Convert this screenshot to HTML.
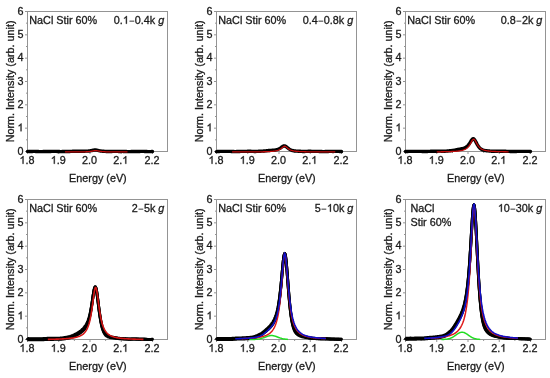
<!DOCTYPE html><html><head><meta charset="utf-8"><style>html,body{margin:0;padding:0;background:#fff;}svg{display:block;will-change:transform;}text{font-family:"Liberation Sans",sans-serif;stroke:#1a1a1a;stroke-width:0.3px;}</style></head><body>
<svg width="550" height="378" viewBox="0 0 550 378">
<rect x="27.5" y="11.5" width="140.0" height="140.0" fill="none" stroke="#949494" stroke-width="1"/>
<line x1="25.0" y1="151.50" x2="27.5" y2="151.50" stroke="#949494" stroke-width="1"/>
<text id="t0" x="23.50" y="154.60" font-size="10.8" fill="#1a1a1a" text-anchor="end">0</text>
<line x1="26.0" y1="139.83" x2="27.5" y2="139.83" stroke="#949494" stroke-width="1"/>
<line x1="25.0" y1="128.17" x2="27.5" y2="128.17" stroke="#949494" stroke-width="1"/>
<text id="t1" x="23.50" y="131.27" font-size="10.8" fill="#1a1a1a" text-anchor="end"><tspan style="fill:none;stroke:none">1</tspan></text>
<path d="M21.51,131.27 L20.56,131.27 L20.56,125.22 Q20.22,125.55 19.66,125.88 Q19.10,126.20 18.66,126.37 L18.66,125.45 Q19.46,125.07 20.05,124.54 Q20.64,124.01 20.89,123.51 L21.51,123.51Z" fill="#1a1a1a" stroke="#1a1a1a" stroke-width="0.3"/>
<line x1="26.0" y1="116.50" x2="27.5" y2="116.50" stroke="#949494" stroke-width="1"/>
<line x1="25.0" y1="104.83" x2="27.5" y2="104.83" stroke="#949494" stroke-width="1"/>
<text id="t2" x="23.50" y="107.93" font-size="10.8" fill="#1a1a1a" text-anchor="end">2</text>
<line x1="26.0" y1="93.17" x2="27.5" y2="93.17" stroke="#949494" stroke-width="1"/>
<line x1="25.0" y1="81.50" x2="27.5" y2="81.50" stroke="#949494" stroke-width="1"/>
<text id="t3" x="23.50" y="84.60" font-size="10.8" fill="#1a1a1a" text-anchor="end">3</text>
<line x1="26.0" y1="69.83" x2="27.5" y2="69.83" stroke="#949494" stroke-width="1"/>
<line x1="25.0" y1="58.17" x2="27.5" y2="58.17" stroke="#949494" stroke-width="1"/>
<text id="t4" x="23.50" y="61.27" font-size="10.8" fill="#1a1a1a" text-anchor="end">4</text>
<line x1="26.0" y1="46.50" x2="27.5" y2="46.50" stroke="#949494" stroke-width="1"/>
<line x1="25.0" y1="34.83" x2="27.5" y2="34.83" stroke="#949494" stroke-width="1"/>
<text id="t5" x="23.50" y="37.93" font-size="10.8" fill="#1a1a1a" text-anchor="end">5</text>
<line x1="26.0" y1="23.17" x2="27.5" y2="23.17" stroke="#949494" stroke-width="1"/>
<line x1="25.0" y1="11.50" x2="27.5" y2="11.50" stroke="#949494" stroke-width="1"/>
<text id="t6" x="23.50" y="14.60" font-size="10.8" fill="#1a1a1a" text-anchor="end">6</text>
<line x1="27.50" y1="151.5" x2="27.50" y2="154.0" stroke="#949494" stroke-width="1"/>
<text id="t7" x="27.00" y="163.80" font-size="10.8" fill="#1a1a1a" text-anchor="middle"><tspan style="fill:none;stroke:none">1</tspan>.8</text>
<path d="M23.51,163.80 L22.56,163.80 L22.56,157.75 Q22.22,158.08 21.66,158.41 Q21.10,158.73 20.66,158.90 L20.66,157.98 Q21.46,157.60 22.05,157.07 Q22.64,156.54 22.89,156.04 L23.51,156.04Z" fill="#1a1a1a" stroke="#1a1a1a" stroke-width="0.3"/>
<line x1="43.12" y1="151.5" x2="43.12" y2="153.0" stroke="#949494" stroke-width="1"/>
<line x1="58.75" y1="151.5" x2="58.75" y2="154.0" stroke="#949494" stroke-width="1"/>
<text id="t8" x="58.25" y="163.80" font-size="10.8" fill="#1a1a1a" text-anchor="middle"><tspan style="fill:none;stroke:none">1</tspan>.9</text>
<path d="M54.76,163.80 L53.81,163.80 L53.81,157.75 Q53.47,158.08 52.91,158.41 Q52.35,158.73 51.91,158.90 L51.91,157.98 Q52.71,157.60 53.30,157.07 Q53.89,156.54 54.14,156.04 L54.76,156.04Z" fill="#1a1a1a" stroke="#1a1a1a" stroke-width="0.3"/>
<line x1="74.38" y1="151.5" x2="74.38" y2="153.0" stroke="#949494" stroke-width="1"/>
<line x1="90.00" y1="151.5" x2="90.00" y2="154.0" stroke="#949494" stroke-width="1"/>
<text id="t9" x="89.50" y="163.80" font-size="10.8" fill="#1a1a1a" text-anchor="middle">2.0</text>
<line x1="105.62" y1="151.5" x2="105.62" y2="153.0" stroke="#949494" stroke-width="1"/>
<line x1="121.25" y1="151.5" x2="121.25" y2="154.0" stroke="#949494" stroke-width="1"/>
<text id="t10" x="120.75" y="163.80" font-size="10.8" fill="#1a1a1a" text-anchor="middle">2.<tspan style="fill:none;stroke:none">1</tspan></text>
<path d="M126.27,163.80 L125.32,163.80 L125.32,157.75 Q124.98,158.08 124.42,158.41 Q123.87,158.73 123.43,158.90 L123.43,157.98 Q124.22,157.60 124.82,157.07 Q125.41,156.54 125.66,156.04 L126.27,156.04Z" fill="#1a1a1a" stroke="#1a1a1a" stroke-width="0.3"/>
<line x1="136.88" y1="151.5" x2="136.88" y2="153.0" stroke="#949494" stroke-width="1"/>
<line x1="152.50" y1="151.5" x2="152.50" y2="154.0" stroke="#949494" stroke-width="1"/>
<text id="t11" x="152.00" y="163.80" font-size="10.8" fill="#1a1a1a" text-anchor="middle">2.2</text>
<text id="t12" x="97.90" y="181.50" font-size="10.8" fill="#1a1a1a" text-anchor="middle">Energy (eV)</text>
<text x="13.90" y="81.40" font-size="10.8" fill="#1a1a1a" text-anchor="middle" transform="rotate(-90 13.90 81.40)">Norm. Intensity (arb. unit)</text>
<text id="t13" x="29.30" y="23.70" font-size="10.8" fill="#1a1a1a">NaCl Stir 60%</text>
<text id="t14" x="164.30" y="23.70" font-size="10.8" fill="#1a1a1a" text-anchor="end">0.<tspan style="fill:none;stroke:none">1</tspan><tspan style="fill:none;stroke:none">–</tspan>0.4k <tspan font-style="italic">g</tspan></text>
<path d="M126.85,23.70 L125.91,23.70 L125.91,17.65 Q125.56,17.98 125.00,18.31 Q124.45,18.63 124.01,18.80 L124.01,17.88 Q124.80,17.50 125.40,16.97 Q125.99,16.44 126.24,15.94 L126.85,15.94Z" fill="#1a1a1a" stroke="#1a1a1a" stroke-width="0.3"/>
<rect x="129.45" y="20.65" width="4.81" height="1.0" fill="#3a3a3a"/>
<path d="M27.50,151.42 L28.00,151.42 L28.50,151.43 L29.00,151.44 L29.50,151.44 L30.00,151.45 L30.50,151.45 L31.00,151.44 L31.50,151.44 L32.00,151.43 L32.50,151.43 L33.00,151.42 L33.50,151.41 L34.00,151.41 L34.50,151.41 L35.00,151.42 L35.50,151.43 L36.00,151.45 L36.50,151.47 L37.00,151.49 L37.50,151.52 L38.00,151.54 L38.50,151.57 L39.00,151.59 L39.50,151.61 L40.00,151.62 L40.50,151.63 L41.00,151.62 L41.50,151.62 L42.00,151.60 L42.50,151.59 L43.00,151.57 L43.50,151.55 L44.00,151.53 L44.50,151.51 L45.00,151.49 L45.50,151.48 L46.00,151.47 L46.50,151.47 L47.00,151.47 L47.50,151.47 L48.00,151.47 L48.50,151.47 L49.00,151.47 L49.50,151.47 L50.00,151.46 L50.50,151.45 L51.00,151.44 L51.50,151.42 L52.00,151.41 L52.50,151.39 L53.00,151.38 L53.50,151.37 L54.00,151.36 L54.50,151.36 L55.00,151.37 L55.50,151.38 L56.00,151.39 L56.50,151.42 L57.00,151.44 L57.50,151.47 L58.00,151.50 L58.50,151.52 L59.00,151.54 L59.50,151.56 L60.00,151.58 L60.50,151.58 L61.00,151.58 L61.50,151.58 L62.00,151.57 L62.50,151.56 L63.00,151.54 L63.50,151.53 L64.00,151.52 L64.50,151.51 L65.00,151.50 L65.50,151.49 L66.00,151.49 L66.50,151.49 L67.00,151.49 L67.50,151.49 L68.00,151.49 L68.50,151.48 L69.00,151.47 L69.50,151.46 L70.00,151.44 L70.50,151.42 L71.00,151.40 L71.50,151.37 L72.00,151.34 L72.50,151.31 L73.00,151.28 L73.50,151.26 L74.00,151.24 L74.50,151.23 L75.00,151.22 L75.50,151.22 L76.00,151.23 L76.50,151.24 L77.00,151.25 L77.50,151.27 L78.00,151.28 L78.50,151.30 L79.00,151.31 L79.50,151.31 L80.00,151.31 L80.50,151.31 L81.00,151.30 L81.50,151.29 L82.00,151.27 L82.50,151.25 L83.00,151.24 L83.50,151.22 L84.00,151.20 L84.50,151.19 L85.00,151.18 L85.50,151.17 L86.00,151.16 L86.50,151.14 L87.00,151.13 L87.50,151.11 L88.00,151.08 L88.50,151.04 L89.00,150.99 L89.50,150.94 L90.00,150.87 L90.50,150.78 L91.00,150.69 L91.50,150.59 L92.00,150.48 L92.50,150.36 L93.00,150.25 L93.50,150.15 L94.00,150.06 L94.50,150.00 L95.00,149.97 L95.50,149.98 L96.00,150.02 L96.50,150.10 L97.00,150.20 L97.50,150.32 L98.00,150.44 L98.50,150.56 L99.00,150.68 L99.50,150.79 L100.00,150.89 L100.50,150.97 L101.00,151.04 L101.50,151.10 L102.00,151.16 L102.50,151.20 L103.00,151.24 L103.50,151.28 L104.00,151.31 L104.50,151.35 L105.00,151.38 L105.50,151.41 L106.00,151.45 L106.50,151.47 L107.00,151.50 L107.50,151.52 L108.00,151.54 L108.50,151.54 L109.00,151.55 L109.50,151.54 L110.00,151.53 L110.50,151.51 L111.00,151.49 L111.50,151.47 L112.00,151.44 L112.50,151.42 L113.00,151.40 L113.50,151.38 L114.00,151.37 L114.50,151.36 L115.00,151.36 L115.50,151.37 L116.00,151.37 L116.50,151.38 L117.00,151.40 L117.50,151.41 L118.00,151.42 L118.50,151.43 L119.00,151.43 L119.50,151.43 L120.00,151.43 L120.50,151.43 L121.00,151.43 L121.50,151.42 L122.00,151.42 L122.50,151.42 L123.00,151.43 L123.50,151.44 L124.00,151.45 L124.50,151.47 L125.00,151.49 L125.50,151.52 L126.00,151.54 L126.50,151.57 L127.00,151.59 L127.50,151.61 L128.00,151.62 L128.50,151.63 L129.00,151.62 L129.50,151.62 L130.00,151.61 L130.50,151.59 L131.00,151.57 L131.50,151.54 L132.00,151.52 L132.50,151.50 L133.00,151.48 L133.50,151.46 L134.00,151.45 L134.50,151.44 L135.00,151.44 L135.50,151.44 L136.00,151.44 L136.50,151.45 L137.00,151.45 L137.50,151.45 L138.00,151.45 L138.50,151.45 L139.00,151.44 L139.50,151.44 L140.00,151.43 L140.50,151.41 L141.00,151.40 L141.50,151.39 L142.00,151.39 L142.50,151.39 L143.00,151.39 L143.50,151.40 L144.00,151.42 L144.50,151.44 L145.00,151.47 L145.50,151.49 L146.00,151.52 L146.50,151.55 L147.00,151.57 L147.50,151.59 L148.00,151.61 L148.50,151.62 L149.00,151.62 L149.50,151.62 L150.00,151.61 L150.50,151.60 L151.00,151.58 L151.50,151.56 L152.00,151.55 L152.50,151.53" fill="none" stroke="#000" stroke-width="3.4" stroke-linejoin="round" stroke-linecap="round"/>
<path d="M65.00,151.97 L65.62,151.97 L66.25,151.97 L66.87,151.97 L67.50,151.97 L68.12,151.97 L68.75,151.96 L69.37,151.96 L70.00,151.96 L70.62,151.96 L71.25,151.96 L71.87,151.95 L72.50,151.95 L73.12,151.95 L73.75,151.95 L74.37,151.94 L75.00,151.94 L75.62,151.94 L76.25,151.93 L76.87,151.93 L77.50,151.92 L78.12,151.92 L78.75,151.91 L79.37,151.91 L80.00,151.90 L80.62,151.89 L81.25,151.88 L81.87,151.87 L82.50,151.86 L83.12,151.85 L83.75,151.83 L84.37,151.82 L85.00,151.80 L85.62,151.78 L86.25,151.75 L86.87,151.72 L87.50,151.69 L88.12,151.64 L88.75,151.60 L89.37,151.54 L90.00,151.47 L90.62,151.39 L91.25,151.30 L91.87,151.19 L92.50,151.07 L93.12,150.94 L93.75,150.82 L94.37,150.71 L95.00,150.63 L95.62,150.60 L96.25,150.63 L96.87,150.71 L97.50,150.82 L98.12,150.94 L98.75,151.07 L99.37,151.19 L100.00,151.30 L100.62,151.39 L101.25,151.47 L101.87,151.54 L102.50,151.60 L103.12,151.64 L103.75,151.69 L104.37,151.72 L105.00,151.75 L105.62,151.78 L106.25,151.80 L106.87,151.82 L107.50,151.83 L108.12,151.85 L108.75,151.86 L109.37,151.87 L110.00,151.88 L110.62,151.89 L111.25,151.90 L111.87,151.91 L112.50,151.91 L113.12,151.92 L113.75,151.92 L114.37,151.93 L115.00,151.93 L115.62,151.94 L116.25,151.94 L116.87,151.94 L117.50,151.95 L118.12,151.95 L118.75,151.95 L119.37,151.95 L120.00,151.96 L120.62,151.96 L121.25,151.96 L121.87,151.96 L122.50,151.96 L123.12,151.97 L123.75,151.97 L124.37,151.97 L125.00,151.97 L125.62,151.97 L126.25,151.97 L126.87,151.97 L127.50,151.97" fill="none" stroke="#c40c0c" stroke-width="1.3"/>
<rect x="216.5" y="11.5" width="140.0" height="140.0" fill="none" stroke="#949494" stroke-width="1"/>
<line x1="214.0" y1="151.50" x2="216.5" y2="151.50" stroke="#949494" stroke-width="1"/>
<text id="t15" x="212.50" y="154.60" font-size="10.8" fill="#1a1a1a" text-anchor="end">0</text>
<line x1="215.0" y1="139.83" x2="216.5" y2="139.83" stroke="#949494" stroke-width="1"/>
<line x1="214.0" y1="128.17" x2="216.5" y2="128.17" stroke="#949494" stroke-width="1"/>
<text id="t16" x="212.50" y="131.27" font-size="10.8" fill="#1a1a1a" text-anchor="end"><tspan style="fill:none;stroke:none">1</tspan></text>
<path d="M210.51,131.27 L209.56,131.27 L209.56,125.22 Q209.22,125.55 208.66,125.88 Q208.10,126.20 207.66,126.37 L207.66,125.45 Q208.46,125.07 209.05,124.54 Q209.64,124.01 209.89,123.51 L210.51,123.51Z" fill="#1a1a1a" stroke="#1a1a1a" stroke-width="0.3"/>
<line x1="215.0" y1="116.50" x2="216.5" y2="116.50" stroke="#949494" stroke-width="1"/>
<line x1="214.0" y1="104.83" x2="216.5" y2="104.83" stroke="#949494" stroke-width="1"/>
<text id="t17" x="212.50" y="107.93" font-size="10.8" fill="#1a1a1a" text-anchor="end">2</text>
<line x1="215.0" y1="93.17" x2="216.5" y2="93.17" stroke="#949494" stroke-width="1"/>
<line x1="214.0" y1="81.50" x2="216.5" y2="81.50" stroke="#949494" stroke-width="1"/>
<text id="t18" x="212.50" y="84.60" font-size="10.8" fill="#1a1a1a" text-anchor="end">3</text>
<line x1="215.0" y1="69.83" x2="216.5" y2="69.83" stroke="#949494" stroke-width="1"/>
<line x1="214.0" y1="58.17" x2="216.5" y2="58.17" stroke="#949494" stroke-width="1"/>
<text id="t19" x="212.50" y="61.27" font-size="10.8" fill="#1a1a1a" text-anchor="end">4</text>
<line x1="215.0" y1="46.50" x2="216.5" y2="46.50" stroke="#949494" stroke-width="1"/>
<line x1="214.0" y1="34.83" x2="216.5" y2="34.83" stroke="#949494" stroke-width="1"/>
<text id="t20" x="212.50" y="37.93" font-size="10.8" fill="#1a1a1a" text-anchor="end">5</text>
<line x1="215.0" y1="23.17" x2="216.5" y2="23.17" stroke="#949494" stroke-width="1"/>
<line x1="214.0" y1="11.50" x2="216.5" y2="11.50" stroke="#949494" stroke-width="1"/>
<text id="t21" x="212.50" y="14.60" font-size="10.8" fill="#1a1a1a" text-anchor="end">6</text>
<line x1="216.50" y1="151.5" x2="216.50" y2="154.0" stroke="#949494" stroke-width="1"/>
<text id="t22" x="216.00" y="163.80" font-size="10.8" fill="#1a1a1a" text-anchor="middle"><tspan style="fill:none;stroke:none">1</tspan>.8</text>
<path d="M212.51,163.80 L211.56,163.80 L211.56,157.75 Q211.22,158.08 210.66,158.41 Q210.10,158.73 209.66,158.90 L209.66,157.98 Q210.46,157.60 211.05,157.07 Q211.64,156.54 211.89,156.04 L212.51,156.04Z" fill="#1a1a1a" stroke="#1a1a1a" stroke-width="0.3"/>
<line x1="232.12" y1="151.5" x2="232.12" y2="153.0" stroke="#949494" stroke-width="1"/>
<line x1="247.75" y1="151.5" x2="247.75" y2="154.0" stroke="#949494" stroke-width="1"/>
<text id="t23" x="247.25" y="163.80" font-size="10.8" fill="#1a1a1a" text-anchor="middle"><tspan style="fill:none;stroke:none">1</tspan>.9</text>
<path d="M243.76,163.80 L242.81,163.80 L242.81,157.75 Q242.47,158.08 241.91,158.41 Q241.35,158.73 240.91,158.90 L240.91,157.98 Q241.71,157.60 242.30,157.07 Q242.89,156.54 243.14,156.04 L243.76,156.04Z" fill="#1a1a1a" stroke="#1a1a1a" stroke-width="0.3"/>
<line x1="263.38" y1="151.5" x2="263.38" y2="153.0" stroke="#949494" stroke-width="1"/>
<line x1="279.00" y1="151.5" x2="279.00" y2="154.0" stroke="#949494" stroke-width="1"/>
<text id="t24" x="278.50" y="163.80" font-size="10.8" fill="#1a1a1a" text-anchor="middle">2.0</text>
<line x1="294.62" y1="151.5" x2="294.62" y2="153.0" stroke="#949494" stroke-width="1"/>
<line x1="310.25" y1="151.5" x2="310.25" y2="154.0" stroke="#949494" stroke-width="1"/>
<text id="t25" x="309.75" y="163.80" font-size="10.8" fill="#1a1a1a" text-anchor="middle">2.<tspan style="fill:none;stroke:none">1</tspan></text>
<path d="M315.27,163.80 L314.32,163.80 L314.32,157.75 Q313.98,158.08 313.42,158.41 Q312.87,158.73 312.43,158.90 L312.43,157.98 Q313.22,157.60 313.82,157.07 Q314.41,156.54 314.66,156.04 L315.27,156.04Z" fill="#1a1a1a" stroke="#1a1a1a" stroke-width="0.3"/>
<line x1="325.88" y1="151.5" x2="325.88" y2="153.0" stroke="#949494" stroke-width="1"/>
<line x1="341.50" y1="151.5" x2="341.50" y2="154.0" stroke="#949494" stroke-width="1"/>
<text id="t26" x="341.00" y="163.80" font-size="10.8" fill="#1a1a1a" text-anchor="middle">2.2</text>
<text id="t27" x="286.90" y="181.50" font-size="10.8" fill="#1a1a1a" text-anchor="middle">Energy (eV)</text>
<text x="202.90" y="81.40" font-size="10.8" fill="#1a1a1a" text-anchor="middle" transform="rotate(-90 202.90 81.40)">Norm. Intensity (arb. unit)</text>
<text id="t28" x="218.30" y="23.70" font-size="10.8" fill="#1a1a1a">NaCl Stir 60%</text>
<text id="t29" x="353.30" y="23.70" font-size="10.8" fill="#1a1a1a" text-anchor="end">0.4<tspan style="fill:none;stroke:none">–</tspan>0.8k <tspan font-style="italic">g</tspan></text>
<rect x="318.45" y="20.65" width="4.81" height="1.0" fill="#3a3a3a"/>
<path d="M216.50,151.59 L217.00,151.57 L217.50,151.55 L218.00,151.52 L218.50,151.49 L219.00,151.46 L219.50,151.44 L220.00,151.42 L220.50,151.40 L221.00,151.39 L221.50,151.38 L222.00,151.38 L222.50,151.38 L223.00,151.39 L223.50,151.40 L224.00,151.40 L224.50,151.41 L225.00,151.42 L225.50,151.42 L226.00,151.42 L226.50,151.42 L227.00,151.41 L227.50,151.40 L228.00,151.40 L228.50,151.39 L229.00,151.39 L229.50,151.39 L230.00,151.40 L230.50,151.41 L231.00,151.43 L231.50,151.45 L232.00,151.47 L232.50,151.49 L233.00,151.52 L233.50,151.54 L234.00,151.56 L234.50,151.58 L235.00,151.58 L235.50,151.59 L236.00,151.58 L236.50,151.57 L237.00,151.56 L237.50,151.54 L238.00,151.52 L238.50,151.49 L239.00,151.47 L239.50,151.45 L240.00,151.43 L240.50,151.42 L241.00,151.41 L241.50,151.40 L242.00,151.40 L242.50,151.40 L243.00,151.40 L243.50,151.40 L244.00,151.40 L244.50,151.39 L245.00,151.39 L245.50,151.38 L246.00,151.37 L246.50,151.35 L247.00,151.34 L247.50,151.32 L248.00,151.31 L248.50,151.29 L249.00,151.29 L249.50,151.28 L250.00,151.29 L250.50,151.30 L251.00,151.31 L251.50,151.33 L252.00,151.35 L252.50,151.37 L253.00,151.39 L253.50,151.41 L254.00,151.43 L254.50,151.44 L255.00,151.44 L255.50,151.44 L256.00,151.43 L256.50,151.42 L257.00,151.40 L257.50,151.37 L258.00,151.34 L258.50,151.31 L259.00,151.28 L259.50,151.25 L260.00,151.23 L260.50,151.20 L261.00,151.18 L261.50,151.15 L262.00,151.13 L262.50,151.11 L263.00,151.08 L263.50,151.05 L264.00,151.02 L264.50,150.98 L265.00,150.94 L265.50,150.89 L266.00,150.83 L266.50,150.78 L267.00,150.72 L267.50,150.66 L268.00,150.60 L268.50,150.55 L269.00,150.50 L269.50,150.46 L270.00,150.42 L270.50,150.38 L271.00,150.35 L271.50,150.33 L272.00,150.30 L272.50,150.27 L273.00,150.24 L273.50,150.20 L274.00,150.15 L274.50,150.09 L275.00,150.02 L275.50,149.93 L276.00,149.83 L276.50,149.71 L277.00,149.57 L277.50,149.41 L278.00,149.23 L278.50,149.03 L279.00,148.80 L279.50,148.54 L280.00,148.25 L280.50,147.94 L281.00,147.60 L281.50,147.24 L282.00,146.88 L282.50,146.53 L283.00,146.23 L283.50,146.00 L284.00,145.87 L284.50,145.86 L285.00,145.98 L285.50,146.20 L286.00,146.52 L286.50,146.90 L287.00,147.30 L287.50,147.71 L288.00,148.11 L288.50,148.50 L289.00,148.85 L289.50,149.18 L290.00,149.47 L290.50,149.73 L291.00,149.97 L291.50,150.17 L292.00,150.35 L292.50,150.51 L293.00,150.64 L293.50,150.75 L294.00,150.85 L294.50,150.93 L295.00,150.99 L295.50,151.04 L296.00,151.08 L296.50,151.12 L297.00,151.14 L297.50,151.17 L298.00,151.19 L298.50,151.22 L299.00,151.24 L299.50,151.27 L300.00,151.30 L300.50,151.32 L301.00,151.35 L301.50,151.38 L302.00,151.41 L302.50,151.43 L303.00,151.44 L303.50,151.45 L304.00,151.45 L304.50,151.45 L305.00,151.44 L305.50,151.42 L306.00,151.41 L306.50,151.38 L307.00,151.36 L307.50,151.34 L308.00,151.32 L308.50,151.31 L309.00,151.30 L309.50,151.29 L310.00,151.29 L310.50,151.30 L311.00,151.31 L311.50,151.33 L312.00,151.34 L312.50,151.36 L313.00,151.37 L313.50,151.38 L314.00,151.39 L314.50,151.40 L315.00,151.40 L315.50,151.40 L316.00,151.40 L316.50,151.40 L317.00,151.40 L317.50,151.40 L318.00,151.41 L318.50,151.42 L319.00,151.43 L319.50,151.45 L320.00,151.47 L320.50,151.49 L321.00,151.52 L321.50,151.54 L322.00,151.56 L322.50,151.58 L323.00,151.59 L323.50,151.60 L324.00,151.60 L324.50,151.59 L325.00,151.57 L325.50,151.56 L326.00,151.53 L326.50,151.51 L327.00,151.48 L327.50,151.46 L328.00,151.44 L328.50,151.43 L329.00,151.42 L329.50,151.41 L330.00,151.41 L330.50,151.41 L331.00,151.41 L331.50,151.42 L332.00,151.42 L332.50,151.43 L333.00,151.43 L333.50,151.43 L334.00,151.42 L334.50,151.42 L335.00,151.41 L335.50,151.40 L336.00,151.39 L336.50,151.39 L337.00,151.38 L337.50,151.38 L338.00,151.39 L338.50,151.40 L339.00,151.42 L339.50,151.44 L340.00,151.46 L340.50,151.49 L341.00,151.52 L341.50,151.55" fill="none" stroke="#000" stroke-width="3.4" stroke-linejoin="round" stroke-linecap="round"/>
<path d="M232.12,151.96 L232.75,151.96 L233.38,151.96 L234.00,151.96 L234.63,151.96 L235.25,151.96 L235.88,151.95 L236.50,151.95 L237.13,151.95 L237.75,151.95 L238.38,151.95 L239.00,151.95 L239.63,151.95 L240.25,151.94 L240.88,151.94 L241.50,151.94 L242.13,151.94 L242.75,151.94 L243.38,151.94 L244.00,151.93 L244.63,151.93 L245.25,151.93 L245.88,151.93 L246.50,151.93 L247.13,151.92 L247.75,151.92 L248.38,151.92 L249.00,151.92 L249.63,151.91 L250.25,151.91 L250.88,151.91 L251.50,151.90 L252.13,151.90 L252.75,151.89 L253.38,151.89 L254.00,151.89 L254.63,151.88 L255.25,151.88 L255.88,151.87 L256.50,151.86 L257.13,151.86 L257.75,151.85 L258.38,151.85 L259.00,151.84 L259.63,151.83 L260.25,151.82 L260.88,151.81 L261.50,151.80 L262.13,151.79 L262.75,151.78 L263.38,151.77 L264.00,151.75 L264.63,151.74 L265.25,151.72 L265.88,151.70 L266.50,151.69 L267.13,151.66 L267.75,151.64 L268.38,151.61 L269.00,151.58 L269.63,151.55 L270.25,151.52 L270.88,151.47 L271.50,151.43 L272.13,151.38 L272.75,151.32 L273.38,151.25 L274.00,151.17 L274.63,151.08 L275.25,150.98 L275.88,150.86 L276.50,150.72 L277.13,150.55 L277.75,150.35 L278.38,150.12 L279.00,149.85 L279.63,149.52 L280.25,149.14 L280.88,148.70 L281.50,148.21 L282.13,147.69 L282.75,147.17 L283.38,146.71 L284.00,146.40 L284.63,146.28 L285.25,146.40 L285.88,146.71 L286.50,147.17 L287.13,147.69 L287.75,148.21 L288.38,148.70 L289.00,149.14 L289.63,149.52 L290.25,149.85 L290.88,150.12 L291.50,150.35 L292.13,150.55 L292.75,150.72 L293.38,150.86 L294.00,150.98 L294.63,151.08 L295.25,151.17 L295.88,151.25 L296.50,151.32 L297.13,151.38 L297.75,151.43 L298.38,151.47 L299.00,151.52 L299.63,151.55 L300.25,151.58 L300.88,151.61 L301.50,151.64 L302.13,151.66 L302.75,151.69 L303.38,151.70 L304.00,151.72 L304.63,151.74 L305.25,151.75 L305.88,151.77 L306.50,151.78 L307.12,151.79 L307.75,151.80 L308.38,151.81 L309.00,151.82 L309.62,151.83 L310.25,151.84 L310.88,151.85 L311.50,151.85 L312.12,151.86 L312.75,151.86 L313.38,151.87 L314.00,151.88 L314.62,151.88 L315.25,151.89 L315.88,151.89 L316.50,151.89 L317.12,151.90 L317.75,151.90 L318.38,151.91 L319.00,151.91 L319.62,151.91 L320.25,151.92 L320.88,151.92 L321.50,151.92 L322.12,151.92 L322.75,151.93 L323.37,151.93 L324.00,151.93 L324.62,151.93 L325.25,151.93 L325.87,151.94 L326.50,151.94 L327.12,151.94 L327.75,151.94 L328.37,151.94 L329.00,151.94 L329.62,151.95 L330.25,151.95 L330.87,151.95 L331.50,151.95 L332.12,151.95 L332.75,151.95 L333.38,151.95 L334.00,151.96 L334.62,151.96 L335.25,151.96" fill="none" stroke="#c40c0c" stroke-width="1.3"/>
<rect x="405.5" y="11.5" width="140.0" height="140.0" fill="none" stroke="#949494" stroke-width="1"/>
<line x1="403.0" y1="151.50" x2="405.5" y2="151.50" stroke="#949494" stroke-width="1"/>
<text id="t30" x="401.50" y="154.60" font-size="10.8" fill="#1a1a1a" text-anchor="end">0</text>
<line x1="404.0" y1="139.83" x2="405.5" y2="139.83" stroke="#949494" stroke-width="1"/>
<line x1="403.0" y1="128.17" x2="405.5" y2="128.17" stroke="#949494" stroke-width="1"/>
<text id="t31" x="401.50" y="131.27" font-size="10.8" fill="#1a1a1a" text-anchor="end"><tspan style="fill:none;stroke:none">1</tspan></text>
<path d="M399.51,131.27 L398.56,131.27 L398.56,125.22 Q398.22,125.55 397.66,125.88 Q397.10,126.20 396.66,126.37 L396.66,125.45 Q397.46,125.07 398.05,124.54 Q398.64,124.01 398.89,123.51 L399.51,123.51Z" fill="#1a1a1a" stroke="#1a1a1a" stroke-width="0.3"/>
<line x1="404.0" y1="116.50" x2="405.5" y2="116.50" stroke="#949494" stroke-width="1"/>
<line x1="403.0" y1="104.83" x2="405.5" y2="104.83" stroke="#949494" stroke-width="1"/>
<text id="t32" x="401.50" y="107.93" font-size="10.8" fill="#1a1a1a" text-anchor="end">2</text>
<line x1="404.0" y1="93.17" x2="405.5" y2="93.17" stroke="#949494" stroke-width="1"/>
<line x1="403.0" y1="81.50" x2="405.5" y2="81.50" stroke="#949494" stroke-width="1"/>
<text id="t33" x="401.50" y="84.60" font-size="10.8" fill="#1a1a1a" text-anchor="end">3</text>
<line x1="404.0" y1="69.83" x2="405.5" y2="69.83" stroke="#949494" stroke-width="1"/>
<line x1="403.0" y1="58.17" x2="405.5" y2="58.17" stroke="#949494" stroke-width="1"/>
<text id="t34" x="401.50" y="61.27" font-size="10.8" fill="#1a1a1a" text-anchor="end">4</text>
<line x1="404.0" y1="46.50" x2="405.5" y2="46.50" stroke="#949494" stroke-width="1"/>
<line x1="403.0" y1="34.83" x2="405.5" y2="34.83" stroke="#949494" stroke-width="1"/>
<text id="t35" x="401.50" y="37.93" font-size="10.8" fill="#1a1a1a" text-anchor="end">5</text>
<line x1="404.0" y1="23.17" x2="405.5" y2="23.17" stroke="#949494" stroke-width="1"/>
<line x1="403.0" y1="11.50" x2="405.5" y2="11.50" stroke="#949494" stroke-width="1"/>
<text id="t36" x="401.50" y="14.60" font-size="10.8" fill="#1a1a1a" text-anchor="end">6</text>
<line x1="405.50" y1="151.5" x2="405.50" y2="154.0" stroke="#949494" stroke-width="1"/>
<text id="t37" x="405.00" y="163.80" font-size="10.8" fill="#1a1a1a" text-anchor="middle"><tspan style="fill:none;stroke:none">1</tspan>.8</text>
<path d="M401.51,163.80 L400.56,163.80 L400.56,157.75 Q400.22,158.08 399.66,158.41 Q399.10,158.73 398.66,158.90 L398.66,157.98 Q399.46,157.60 400.05,157.07 Q400.64,156.54 400.89,156.04 L401.51,156.04Z" fill="#1a1a1a" stroke="#1a1a1a" stroke-width="0.3"/>
<line x1="421.12" y1="151.5" x2="421.12" y2="153.0" stroke="#949494" stroke-width="1"/>
<line x1="436.75" y1="151.5" x2="436.75" y2="154.0" stroke="#949494" stroke-width="1"/>
<text id="t38" x="436.25" y="163.80" font-size="10.8" fill="#1a1a1a" text-anchor="middle"><tspan style="fill:none;stroke:none">1</tspan>.9</text>
<path d="M432.76,163.80 L431.81,163.80 L431.81,157.75 Q431.47,158.08 430.91,158.41 Q430.35,158.73 429.91,158.90 L429.91,157.98 Q430.71,157.60 431.30,157.07 Q431.89,156.54 432.14,156.04 L432.76,156.04Z" fill="#1a1a1a" stroke="#1a1a1a" stroke-width="0.3"/>
<line x1="452.38" y1="151.5" x2="452.38" y2="153.0" stroke="#949494" stroke-width="1"/>
<line x1="468.00" y1="151.5" x2="468.00" y2="154.0" stroke="#949494" stroke-width="1"/>
<text id="t39" x="467.50" y="163.80" font-size="10.8" fill="#1a1a1a" text-anchor="middle">2.0</text>
<line x1="483.62" y1="151.5" x2="483.62" y2="153.0" stroke="#949494" stroke-width="1"/>
<line x1="499.25" y1="151.5" x2="499.25" y2="154.0" stroke="#949494" stroke-width="1"/>
<text id="t40" x="498.75" y="163.80" font-size="10.8" fill="#1a1a1a" text-anchor="middle">2.<tspan style="fill:none;stroke:none">1</tspan></text>
<path d="M504.27,163.80 L503.32,163.80 L503.32,157.75 Q502.98,158.08 502.42,158.41 Q501.87,158.73 501.43,158.90 L501.43,157.98 Q502.22,157.60 502.82,157.07 Q503.41,156.54 503.66,156.04 L504.27,156.04Z" fill="#1a1a1a" stroke="#1a1a1a" stroke-width="0.3"/>
<line x1="514.88" y1="151.5" x2="514.88" y2="153.0" stroke="#949494" stroke-width="1"/>
<line x1="530.50" y1="151.5" x2="530.50" y2="154.0" stroke="#949494" stroke-width="1"/>
<text id="t41" x="530.00" y="163.80" font-size="10.8" fill="#1a1a1a" text-anchor="middle">2.2</text>
<text id="t42" x="475.90" y="181.50" font-size="10.8" fill="#1a1a1a" text-anchor="middle">Energy (eV)</text>
<text x="391.90" y="81.40" font-size="10.8" fill="#1a1a1a" text-anchor="middle" transform="rotate(-90 391.90 81.40)">Norm. Intensity (arb. unit)</text>
<text id="t43" x="407.30" y="23.70" font-size="10.8" fill="#1a1a1a">NaCl Stir 60%</text>
<text id="t44" x="542.30" y="23.70" font-size="10.8" fill="#1a1a1a" text-anchor="end">0.8<tspan style="fill:none;stroke:none">–</tspan>2k <tspan font-style="italic">g</tspan></text>
<rect x="516.46" y="20.65" width="4.81" height="1.0" fill="#3a3a3a"/>
<path d="M405.50,151.56 L406.00,151.55 L406.50,151.53 L407.00,151.50 L407.50,151.47 L408.00,151.44 L408.50,151.42 L409.00,151.39 L409.50,151.37 L410.00,151.36 L410.50,151.35 L411.00,151.34 L411.50,151.34 L412.00,151.35 L412.50,151.35 L413.00,151.36 L413.50,151.36 L414.00,151.37 L414.50,151.37 L415.00,151.37 L415.50,151.37 L416.00,151.37 L416.50,151.36 L417.00,151.35 L417.50,151.35 L418.00,151.34 L418.50,151.34 L419.00,151.34 L419.50,151.35 L420.00,151.36 L420.50,151.38 L421.00,151.40 L421.50,151.42 L422.00,151.45 L422.50,151.47 L423.00,151.49 L423.50,151.51 L424.00,151.52 L424.50,151.52 L425.00,151.52 L425.50,151.51 L426.00,151.50 L426.50,151.48 L427.00,151.46 L427.50,151.43 L428.00,151.41 L428.50,151.38 L429.00,151.36 L429.50,151.35 L430.00,151.33 L430.50,151.32 L431.00,151.31 L431.50,151.31 L432.00,151.31 L432.50,151.31 L433.00,151.30 L433.50,151.30 L434.00,151.29 L434.50,151.28 L435.00,151.27 L435.50,151.25 L436.00,151.23 L436.50,151.21 L437.00,151.20 L437.50,151.18 L438.00,151.16 L438.50,151.15 L439.00,151.15 L439.50,151.15 L440.00,151.16 L440.50,151.17 L441.00,151.18 L441.50,151.19 L442.00,151.21 L442.50,151.22 L443.00,151.23 L443.50,151.23 L444.00,151.23 L444.50,151.22 L445.00,151.20 L445.50,151.18 L446.00,151.14 L446.50,151.10 L447.00,151.06 L447.50,151.01 L448.00,150.96 L448.50,150.91 L449.00,150.85 L449.50,150.80 L450.00,150.75 L450.50,150.70 L451.00,150.64 L451.50,150.59 L452.00,150.53 L452.50,150.47 L453.00,150.40 L453.50,150.32 L454.00,150.24 L454.50,150.15 L455.00,150.06 L455.50,149.96 L456.00,149.85 L456.50,149.75 L457.00,149.64 L457.50,149.54 L458.00,149.43 L458.50,149.33 L459.00,149.23 L459.50,149.14 L460.00,149.05 L460.50,148.96 L461.00,148.87 L461.50,148.77 L462.00,148.66 L462.50,148.55 L463.00,148.42 L463.50,148.26 L464.00,148.09 L464.50,147.89 L465.00,147.66 L465.50,147.39 L466.00,147.09 L466.50,146.74 L467.00,146.34 L467.50,145.88 L468.00,145.37 L468.50,144.79 L469.00,144.15 L469.50,143.43 L470.00,142.66 L470.50,141.85 L471.00,141.03 L471.50,140.25 L472.00,139.57 L472.50,139.06 L473.00,138.78 L473.50,138.77 L474.00,139.05 L474.50,139.59 L475.00,140.34 L475.50,141.22 L476.00,142.16 L476.50,143.11 L477.00,144.04 L477.50,144.91 L478.00,145.72 L478.50,146.45 L479.00,147.11 L479.50,147.69 L480.00,148.19 L480.50,148.63 L481.00,149.01 L481.50,149.33 L482.00,149.61 L482.50,149.84 L483.00,150.03 L483.50,150.20 L484.00,150.33 L484.50,150.44 L485.00,150.54 L485.50,150.61 L486.00,150.68 L486.50,150.74 L487.00,150.79 L487.50,150.84 L488.00,150.89 L488.50,150.93 L489.00,150.98 L489.50,151.02 L490.00,151.07 L490.50,151.11 L491.00,151.15 L491.50,151.19 L492.00,151.22 L492.50,151.24 L493.00,151.26 L493.50,151.27 L494.00,151.27 L494.50,151.26 L495.00,151.25 L495.50,151.24 L496.00,151.22 L496.50,151.21 L497.00,151.19 L497.50,151.18 L498.00,151.17 L498.50,151.17 L499.00,151.17 L499.50,151.18 L500.00,151.20 L500.50,151.21 L501.00,151.23 L501.50,151.25 L502.00,151.27 L502.50,151.28 L503.00,151.30 L503.50,151.31 L504.00,151.31 L504.50,151.32 L505.00,151.32 L505.50,151.32 L506.00,151.32 L506.50,151.33 L507.00,151.33 L507.50,151.34 L508.00,151.36 L508.50,151.37 L509.00,151.40 L509.50,151.42 L510.00,151.45 L510.50,151.47 L511.00,151.50 L511.50,151.52 L512.00,151.53 L512.50,151.54 L513.00,151.55 L513.50,151.54 L514.00,151.53 L514.50,151.52 L515.00,151.50 L515.50,151.48 L516.00,151.46 L516.50,151.43 L517.00,151.41 L517.50,151.39 L518.00,151.38 L518.50,151.37 L519.00,151.37 L519.50,151.37 L520.00,151.37 L520.50,151.38 L521.00,151.38 L521.50,151.39 L522.00,151.39 L522.50,151.40 L523.00,151.39 L523.50,151.39 L524.00,151.38 L524.50,151.38 L525.00,151.37 L525.50,151.36 L526.00,151.36 L526.50,151.35 L527.00,151.36 L527.50,151.37 L528.00,151.38 L528.50,151.40 L529.00,151.42 L529.50,151.45 L530.00,151.48 L530.50,151.51" fill="none" stroke="#000" stroke-width="3.4" stroke-linejoin="round" stroke-linecap="round"/>
<path d="M436.75,151.82 L437.37,151.82 L438.00,151.81 L438.62,151.80 L439.25,151.80 L439.87,151.79 L440.50,151.78 L441.12,151.77 L441.75,151.76 L442.37,151.75 L443.00,151.74 L443.62,151.73 L444.25,151.72 L444.87,151.71 L445.50,151.70 L446.12,151.68 L446.75,151.67 L447.37,151.65 L448.00,151.64 L448.62,151.62 L449.25,151.60 L449.88,151.58 L450.50,151.56 L451.12,151.53 L451.75,151.51 L452.38,151.48 L453.00,151.45 L453.62,151.41 L454.25,151.38 L454.88,151.34 L455.50,151.29 L456.12,151.25 L456.75,151.19 L457.38,151.13 L458.00,151.07 L458.62,150.99 L459.25,150.91 L459.88,150.82 L460.50,150.72 L461.12,150.60 L461.75,150.47 L462.38,150.31 L463.00,150.14 L463.62,149.94 L464.25,149.70 L464.88,149.43 L465.50,149.12 L466.12,148.74 L466.75,148.30 L467.38,147.78 L468.00,147.16 L468.62,146.44 L469.25,145.58 L469.87,144.60 L470.50,143.50 L471.12,142.33 L471.75,141.16 L472.37,140.14 L473.00,139.42 L473.62,139.17 L474.25,139.42 L474.87,140.14 L475.50,141.16 L476.12,142.33 L476.75,143.50 L477.37,144.60 L478.00,145.58 L478.62,146.44 L479.25,147.16 L479.87,147.78 L480.50,148.30 L481.12,148.74 L481.75,149.12 L482.37,149.43 L483.00,149.70 L483.62,149.94 L484.25,150.14 L484.87,150.31 L485.50,150.47 L486.12,150.60 L486.75,150.72 L487.37,150.82 L488.00,150.91 L488.62,150.99 L489.25,151.07 L489.87,151.13 L490.50,151.19 L491.12,151.25 L491.75,151.29 L492.37,151.34 L493.00,151.38 L493.62,151.41 L494.25,151.45 L494.87,151.48 L495.50,151.51 L496.12,151.53 L496.75,151.56 L497.37,151.58 L498.00,151.60 L498.62,151.62 L499.25,151.64 L499.87,151.65 L500.50,151.67 L501.12,151.68 L501.75,151.70 L502.37,151.71 L503.00,151.72 L503.62,151.73 L504.25,151.74 L504.87,151.75 L505.50,151.76 L506.12,151.77 L506.75,151.78 L507.37,151.79 L508.00,151.80 L508.62,151.80" fill="none" stroke="#c40c0c" stroke-width="1.3"/>
<rect x="27.5" y="199.5" width="140.0" height="140.0" fill="none" stroke="#949494" stroke-width="1"/>
<line x1="25.0" y1="339.50" x2="27.5" y2="339.50" stroke="#949494" stroke-width="1"/>
<text id="t45" x="23.50" y="342.60" font-size="10.8" fill="#1a1a1a" text-anchor="end">0</text>
<line x1="26.0" y1="327.83" x2="27.5" y2="327.83" stroke="#949494" stroke-width="1"/>
<line x1="25.0" y1="316.17" x2="27.5" y2="316.17" stroke="#949494" stroke-width="1"/>
<text id="t46" x="23.50" y="319.27" font-size="10.8" fill="#1a1a1a" text-anchor="end"><tspan style="fill:none;stroke:none">1</tspan></text>
<path d="M21.51,319.27 L20.56,319.27 L20.56,313.22 Q20.22,313.55 19.66,313.88 Q19.10,314.20 18.66,314.37 L18.66,313.45 Q19.46,313.07 20.05,312.54 Q20.64,312.01 20.89,311.51 L21.51,311.51Z" fill="#1a1a1a" stroke="#1a1a1a" stroke-width="0.3"/>
<line x1="26.0" y1="304.50" x2="27.5" y2="304.50" stroke="#949494" stroke-width="1"/>
<line x1="25.0" y1="292.83" x2="27.5" y2="292.83" stroke="#949494" stroke-width="1"/>
<text id="t47" x="23.50" y="295.93" font-size="10.8" fill="#1a1a1a" text-anchor="end">2</text>
<line x1="26.0" y1="281.17" x2="27.5" y2="281.17" stroke="#949494" stroke-width="1"/>
<line x1="25.0" y1="269.50" x2="27.5" y2="269.50" stroke="#949494" stroke-width="1"/>
<text id="t48" x="23.50" y="272.60" font-size="10.8" fill="#1a1a1a" text-anchor="end">3</text>
<line x1="26.0" y1="257.83" x2="27.5" y2="257.83" stroke="#949494" stroke-width="1"/>
<line x1="25.0" y1="246.17" x2="27.5" y2="246.17" stroke="#949494" stroke-width="1"/>
<text id="t49" x="23.50" y="249.27" font-size="10.8" fill="#1a1a1a" text-anchor="end">4</text>
<line x1="26.0" y1="234.50" x2="27.5" y2="234.50" stroke="#949494" stroke-width="1"/>
<line x1="25.0" y1="222.83" x2="27.5" y2="222.83" stroke="#949494" stroke-width="1"/>
<text id="t50" x="23.50" y="225.93" font-size="10.8" fill="#1a1a1a" text-anchor="end">5</text>
<line x1="26.0" y1="211.17" x2="27.5" y2="211.17" stroke="#949494" stroke-width="1"/>
<line x1="25.0" y1="199.50" x2="27.5" y2="199.50" stroke="#949494" stroke-width="1"/>
<text id="t51" x="23.50" y="202.60" font-size="10.8" fill="#1a1a1a" text-anchor="end">6</text>
<line x1="27.50" y1="339.5" x2="27.50" y2="342.0" stroke="#949494" stroke-width="1"/>
<text id="t52" x="27.00" y="351.80" font-size="10.8" fill="#1a1a1a" text-anchor="middle"><tspan style="fill:none;stroke:none">1</tspan>.8</text>
<path d="M23.51,351.80 L22.56,351.80 L22.56,345.75 Q22.22,346.08 21.66,346.41 Q21.10,346.73 20.66,346.90 L20.66,345.98 Q21.46,345.60 22.05,345.07 Q22.64,344.54 22.89,344.04 L23.51,344.04Z" fill="#1a1a1a" stroke="#1a1a1a" stroke-width="0.3"/>
<line x1="43.12" y1="339.5" x2="43.12" y2="341.0" stroke="#949494" stroke-width="1"/>
<line x1="58.75" y1="339.5" x2="58.75" y2="342.0" stroke="#949494" stroke-width="1"/>
<text id="t53" x="58.25" y="351.80" font-size="10.8" fill="#1a1a1a" text-anchor="middle"><tspan style="fill:none;stroke:none">1</tspan>.9</text>
<path d="M54.76,351.80 L53.81,351.80 L53.81,345.75 Q53.47,346.08 52.91,346.41 Q52.35,346.73 51.91,346.90 L51.91,345.98 Q52.71,345.60 53.30,345.07 Q53.89,344.54 54.14,344.04 L54.76,344.04Z" fill="#1a1a1a" stroke="#1a1a1a" stroke-width="0.3"/>
<line x1="74.38" y1="339.5" x2="74.38" y2="341.0" stroke="#949494" stroke-width="1"/>
<line x1="90.00" y1="339.5" x2="90.00" y2="342.0" stroke="#949494" stroke-width="1"/>
<text id="t54" x="89.50" y="351.80" font-size="10.8" fill="#1a1a1a" text-anchor="middle">2.0</text>
<line x1="105.62" y1="339.5" x2="105.62" y2="341.0" stroke="#949494" stroke-width="1"/>
<line x1="121.25" y1="339.5" x2="121.25" y2="342.0" stroke="#949494" stroke-width="1"/>
<text id="t55" x="120.75" y="351.80" font-size="10.8" fill="#1a1a1a" text-anchor="middle">2.<tspan style="fill:none;stroke:none">1</tspan></text>
<path d="M126.27,351.80 L125.32,351.80 L125.32,345.75 Q124.98,346.08 124.42,346.41 Q123.87,346.73 123.43,346.90 L123.43,345.98 Q124.22,345.60 124.82,345.07 Q125.41,344.54 125.66,344.04 L126.27,344.04Z" fill="#1a1a1a" stroke="#1a1a1a" stroke-width="0.3"/>
<line x1="136.88" y1="339.5" x2="136.88" y2="341.0" stroke="#949494" stroke-width="1"/>
<line x1="152.50" y1="339.5" x2="152.50" y2="342.0" stroke="#949494" stroke-width="1"/>
<text id="t56" x="152.00" y="351.80" font-size="10.8" fill="#1a1a1a" text-anchor="middle">2.2</text>
<text id="t57" x="97.90" y="369.50" font-size="10.8" fill="#1a1a1a" text-anchor="middle">Energy (eV)</text>
<text x="13.90" y="269.40" font-size="10.8" fill="#1a1a1a" text-anchor="middle" transform="rotate(-90 13.90 269.40)">Norm. Intensity (arb. unit)</text>
<text id="t58" x="29.30" y="211.70" font-size="10.8" fill="#1a1a1a">NaCl Stir 60%</text>
<text id="t59" x="164.30" y="211.70" font-size="10.8" fill="#1a1a1a" text-anchor="end">2<tspan style="fill:none;stroke:none">–</tspan>5k <tspan font-style="italic">g</tspan></text>
<rect x="138.46" y="208.65" width="4.81" height="1.0" fill="#3a3a3a"/>
<path d="M27.50,339.13 L28.00,339.14 L28.50,339.15 L29.00,339.16 L29.50,339.17 L30.00,339.19 L30.50,339.20 L31.00,339.21 L31.50,339.21 L32.00,339.22 L32.50,339.22 L33.00,339.21 L33.50,339.21 L34.00,339.20 L34.50,339.20 L35.00,339.19 L35.50,339.19 L36.00,339.19 L36.50,339.20 L37.00,339.21 L37.50,339.22 L38.00,339.23 L38.50,339.24 L39.00,339.25 L39.50,339.26 L40.00,339.26 L40.50,339.26 L41.00,339.25 L41.50,339.23 L42.00,339.21 L42.50,339.18 L43.00,339.15 L43.50,339.11 L44.00,339.08 L44.50,339.04 L45.00,339.01 L45.50,338.98 L46.00,338.96 L46.50,338.94 L47.00,338.92 L47.50,338.91 L48.00,338.91 L48.50,338.91 L49.00,338.90 L49.50,338.90 L50.00,338.90 L50.50,338.90 L51.00,338.89 L51.50,338.88 L52.00,338.86 L52.50,338.84 L53.00,338.82 L53.50,338.81 L54.00,338.79 L54.50,338.77 L55.00,338.76 L55.50,338.75 L56.00,338.74 L56.50,338.74 L57.00,338.74 L57.50,338.74 L58.00,338.74 L58.50,338.74 L59.00,338.74 L59.50,338.73 L60.00,338.72 L60.50,338.69 L61.00,338.66 L61.50,338.62 L62.00,338.57 L62.50,338.51 L63.00,338.45 L63.50,338.38 L64.00,338.30 L64.50,338.23 L65.00,338.14 L65.50,338.06 L66.00,337.98 L66.50,337.89 L67.00,337.80 L67.50,337.71 L68.00,337.61 L68.50,337.51 L69.00,337.39 L69.50,337.27 L70.00,337.13 L70.50,336.98 L71.00,336.82 L71.50,336.64 L72.00,336.45 L72.50,336.25 L73.00,336.04 L73.50,335.81 L74.00,335.58 L74.50,335.34 L75.00,335.10 L75.50,334.85 L76.00,334.60 L76.50,334.34 L77.00,334.07 L77.50,333.79 L78.00,333.51 L78.50,333.22 L79.00,332.91 L79.50,332.59 L80.00,332.25 L80.50,331.89 L81.00,331.51 L81.50,331.11 L82.00,330.68 L82.50,330.23 L83.00,329.74 L83.50,329.22 L84.00,328.67 L84.50,328.07 L85.00,327.41 L85.50,326.70 L86.00,325.91 L86.50,325.03 L87.00,324.04 L87.50,322.93 L88.00,321.67 L88.50,320.24 L89.00,318.60 L89.50,316.73 L90.00,314.60 L90.50,312.19 L91.00,309.49 L91.50,306.51 L92.00,303.27 L92.50,299.87 L93.00,296.43 L93.50,293.16 L94.00,290.32 L94.50,288.19 L95.00,287.03 L95.50,287.00 L96.00,288.20 L96.50,290.51 L97.00,293.67 L97.50,297.38 L98.00,301.37 L98.50,305.41 L99.00,309.33 L99.50,313.01 L100.00,316.40 L100.50,319.45 L101.00,322.15 L101.50,324.51 L102.00,326.54 L102.50,328.28 L103.00,329.75 L103.50,330.98 L104.00,332.01 L104.50,332.87 L105.00,333.59 L105.50,334.20 L106.00,334.72 L106.50,335.15 L107.00,335.53 L107.50,335.86 L108.00,336.14 L108.50,336.39 L109.00,336.60 L109.50,336.79 L110.00,336.95 L110.50,337.09 L111.00,337.21 L111.50,337.32 L112.00,337.42 L112.50,337.50 L113.00,337.58 L113.50,337.65 L114.00,337.73 L114.50,337.80 L115.00,337.87 L115.50,337.95 L116.00,338.02 L116.50,338.10 L117.00,338.17 L117.50,338.25 L118.00,338.32 L118.50,338.39 L119.00,338.45 L119.50,338.51 L120.00,338.56 L120.50,338.60 L121.00,338.64 L121.50,338.67 L122.00,338.70 L122.50,338.73 L123.00,338.76 L123.50,338.78 L124.00,338.81 L124.50,338.84 L125.00,338.87 L125.50,338.90 L126.00,338.94 L126.50,338.97 L127.00,339.00 L127.50,339.03 L128.00,339.06 L128.50,339.08 L129.00,339.09 L129.50,339.10 L130.00,339.10 L130.50,339.09 L131.00,339.08 L131.50,339.07 L132.00,339.05 L132.50,339.03 L133.00,339.02 L133.50,339.01 L134.00,339.00 L134.50,339.00 L135.00,339.00 L135.50,339.01 L136.00,339.03 L136.50,339.05 L137.00,339.07 L137.50,339.09 L138.00,339.11 L138.50,339.13 L139.00,339.15 L139.50,339.16 L140.00,339.17 L140.50,339.18 L141.00,339.19 L141.50,339.19 L142.00,339.20 L142.50,339.20 L143.00,339.21 L143.50,339.22 L144.00,339.23 L144.50,339.25 L145.00,339.27 L145.50,339.30 L146.00,339.32 L146.50,339.35 L147.00,339.37 L147.50,339.40 L148.00,339.41 L148.50,339.42 L149.00,339.43 L149.50,339.43 L150.00,339.42 L150.50,339.41 L151.00,339.39 L151.50,339.37 L152.00,339.34 L152.50,339.32" fill="none" stroke="#000" stroke-width="2.9" stroke-linejoin="round" stroke-linecap="round"/>
<path d="M27.50,339.71 L28.00,339.71 L28.50,339.72 L29.00,339.74 L29.50,339.75 L30.00,339.77 L30.50,339.78 L31.00,339.79 L31.50,339.80 L32.00,339.80 L32.50,339.80 L33.00,339.80 L33.50,339.79 L34.00,339.79 L34.50,339.78 L35.00,339.78 L35.50,339.78 L36.00,339.78 L36.50,339.78 L37.00,339.79 L37.50,339.81 L38.00,339.82 L38.50,339.83 L39.00,339.84 L39.50,339.85 L40.00,339.85 L40.50,339.85 L41.00,339.84 L41.50,339.83 L42.00,339.80 L42.50,339.78 L43.00,339.75 L43.50,339.71 L44.00,339.68 L44.50,339.64 L45.00,339.61 L45.50,339.58 L46.00,339.56 L46.50,339.54 L47.00,339.53 L47.50,339.52 L48.00,339.52 L48.50,339.52 L49.00,339.52 L49.50,339.52 L50.00,339.51 L50.50,339.51 L51.00,339.50 L51.50,339.49 L52.00,339.48 L52.50,339.46 L53.00,339.45 L53.50,339.43 L54.00,339.41 L54.50,339.40 L55.00,339.39 L55.50,339.38 L56.00,339.38 L56.50,339.37 L57.00,339.38 L57.50,339.38 L58.00,339.39 L58.50,339.39 L59.00,339.39 L59.50,339.38 L60.00,339.37 L60.50,339.35 L61.00,339.32 L61.50,339.28 L62.00,339.24 L62.50,339.18 L63.00,339.12 L63.50,339.05 L64.00,338.98 L64.50,338.91 L65.00,338.83 L65.50,338.75 L66.00,338.67 L66.50,338.59 L67.00,338.51 L67.50,338.42 L68.00,338.33 L68.50,338.23 L69.00,338.12 L69.50,338.00 L70.00,337.87 L70.50,337.73 L71.00,337.57 L71.50,337.40 L72.00,337.22 L72.50,337.02 L73.00,336.82 L73.50,336.60 L74.00,336.38 L74.50,336.15 L75.00,335.92 L75.50,335.68 L76.00,335.43 L76.50,335.19 L77.00,334.93 L77.50,334.67 L78.00,334.40 L78.50,334.12 L79.00,333.83 L79.50,333.52 L80.00,333.20 L80.50,332.86 L81.00,332.50 L81.50,332.12 L82.00,331.71 L82.50,331.28 L83.00,330.83 L83.50,330.34 L84.00,329.81 L84.50,329.25 L85.00,328.61 L85.50,327.86 L86.00,327.03 L86.50,326.11 L87.00,325.08 L87.50,323.93 L88.00,322.62 L88.50,321.13 L89.00,319.43 L89.50,317.50 L90.00,315.31 L90.50,312.84 L91.00,310.06 L91.50,307.00 L92.00,303.68 L92.50,300.19 L93.00,296.66 L93.50,293.31 L94.00,290.40 L94.50,288.22 L95.00,287.03 L95.50,287.00 L96.00,288.23 L96.50,290.58 L97.00,293.80 L97.50,297.59 L98.00,301.65 L98.50,305.77 L99.00,309.76 L99.50,313.51 L100.00,316.96 L100.50,320.06 L101.00,322.81 L101.50,325.22 L102.00,327.29 L102.50,329.06 L103.00,330.55 L103.50,331.81 L104.00,332.87 L104.50,333.75 L105.00,334.49 L105.50,335.11 L106.00,335.61 L106.50,335.99 L107.00,336.32 L107.50,336.60 L108.00,336.84 L108.50,337.04 L109.00,337.22 L109.50,337.37 L110.00,337.51 L110.50,337.62 L111.00,337.71 L111.50,337.79 L112.00,337.86 L112.50,337.93 L113.00,337.99 L113.50,338.04 L114.00,338.09 L114.50,338.15 L115.00,338.21 L115.50,338.27 L116.00,338.33 L116.50,338.39 L117.00,338.45 L117.50,338.52 L118.00,338.58 L118.50,338.64 L119.00,338.69 L119.50,338.74 L120.00,338.78 L120.50,338.81 L121.00,338.85 L121.50,338.87 L122.00,338.89 L122.50,338.91 L123.00,338.93 L123.50,338.95 L124.00,338.98 L124.50,339.00 L125.00,339.03 L125.50,339.05 L126.00,339.08 L126.50,339.11 L127.00,339.14 L127.50,339.16 L128.00,339.19 L128.50,339.20 L129.00,339.21 L129.50,339.22 L130.00,339.21 L130.50,339.20 L131.00,339.19 L131.50,339.17 L132.00,339.15 L132.50,339.14 L133.00,339.12 L133.50,339.10 L134.00,339.10 L134.50,339.09 L135.00,339.09 L135.50,339.10 L136.00,339.11 L136.50,339.13 L137.00,339.15 L137.50,339.17 L138.00,339.19 L138.50,339.21 L139.00,339.22 L139.50,339.24 L140.00,339.25 L140.50,339.25 L141.00,339.26 L141.50,339.26 L142.00,339.26 L142.50,339.27 L143.00,339.27 L143.50,339.28 L144.00,339.29 L144.50,339.31 L145.00,339.33 L145.50,339.35 L146.00,339.38 L146.50,339.40 L147.00,339.43 L147.50,339.45 L148.00,339.46 L148.50,339.47 L149.00,339.48 L149.50,339.48 L150.00,339.47 L150.50,339.45 L151.00,339.43 L151.50,339.41 L152.00,339.39 L152.50,339.36" fill="none" stroke="#000" stroke-width="2.9" stroke-linejoin="round"/>
<path d="M27.50,338.55 L28.00,338.56 L28.50,338.57 L29.00,338.58 L29.50,338.59 L30.00,338.61 L30.50,338.62 L31.00,338.63 L31.50,338.63 L32.00,338.63 L32.50,338.63 L33.00,338.63 L33.50,338.62 L34.00,338.62 L34.50,338.61 L35.00,338.61 L35.50,338.60 L36.00,338.60 L36.50,338.61 L37.00,338.62 L37.50,338.63 L38.00,338.64 L38.50,338.65 L39.00,338.66 L39.50,338.66 L40.00,338.67 L40.50,338.66 L41.00,338.65 L41.50,338.63 L42.00,338.61 L42.50,338.58 L43.00,338.55 L43.50,338.51 L44.00,338.48 L44.50,338.44 L45.00,338.41 L45.50,338.38 L46.00,338.35 L46.50,338.33 L47.00,338.32 L47.50,338.31 L48.00,338.30 L48.50,338.30 L49.00,338.29 L49.50,338.29 L50.00,338.29 L50.50,338.28 L51.00,338.27 L51.50,338.26 L52.00,338.24 L52.50,338.22 L53.00,338.20 L53.50,338.18 L54.00,338.16 L54.50,338.14 L55.00,338.13 L55.50,338.12 L56.00,338.11 L56.50,338.10 L57.00,338.10 L57.50,338.10 L58.00,338.10 L58.50,338.10 L59.00,338.09 L59.50,338.08 L60.00,338.07 L60.50,338.04 L61.00,338.00 L61.50,337.96 L62.00,337.91 L62.50,337.85 L63.00,337.78 L63.50,337.70 L64.00,337.63 L64.50,337.54 L65.00,337.46 L65.50,337.37 L66.00,337.28 L66.50,337.19 L67.00,337.10 L67.50,337.00 L68.00,336.90 L68.50,336.79 L69.00,336.67 L69.50,336.54 L70.00,336.40 L70.50,336.24 L71.00,336.07 L71.50,335.89 L72.00,335.69 L72.50,335.48 L73.00,335.26 L73.50,335.02 L74.00,334.78 L74.50,334.54 L75.00,334.28 L75.50,334.02 L76.00,333.76 L76.50,333.48 L77.00,333.21 L77.50,332.92 L78.00,332.62 L78.50,332.31 L79.00,331.99 L79.50,331.65 L80.00,331.30 L80.50,330.92 L81.00,330.52 L81.50,330.10 L82.00,329.65 L82.50,329.17 L83.00,328.66 L83.50,328.11 L84.00,327.52 L84.50,326.89 L85.00,326.22 L85.50,325.54 L86.00,324.79 L86.50,323.95 L87.00,323.00 L87.50,321.94 L88.00,320.73 L88.50,319.34 L89.00,317.76 L89.50,315.95 L90.00,313.89 L90.50,311.55 L91.00,308.93 L91.50,306.02 L92.00,302.87 L92.50,299.55 L93.00,296.20 L93.50,293.01 L94.00,290.23 L94.50,288.16 L95.00,287.02 L95.50,287.00 L96.00,288.18 L96.50,290.44 L97.00,293.54 L97.50,297.18 L98.00,301.09 L98.50,305.06 L99.00,308.90 L99.50,312.52 L100.00,315.84 L100.50,318.84 L101.00,321.49 L101.50,323.80 L102.00,325.80 L102.50,327.50 L103.00,328.94 L103.50,330.14 L104.00,331.15 L104.50,331.99 L105.00,332.70 L105.50,333.29 L106.00,333.82 L106.50,334.31 L107.00,334.74 L107.50,335.11 L108.00,335.44 L108.50,335.73 L109.00,335.98 L109.50,336.20 L110.00,336.40 L110.50,336.57 L111.00,336.72 L111.50,336.85 L112.00,336.97 L112.50,337.08 L113.00,337.18 L113.50,337.27 L114.00,337.36 L114.50,337.45 L115.00,337.54 L115.50,337.62 L116.00,337.71 L116.50,337.80 L117.00,337.89 L117.50,337.98 L118.00,338.06 L118.50,338.14 L119.00,338.21 L119.50,338.28 L120.00,338.34 L120.50,338.39 L121.00,338.43 L121.50,338.47 L122.00,338.51 L122.50,338.54 L123.00,338.58 L123.50,338.61 L124.00,338.64 L124.50,338.68 L125.00,338.71 L125.50,338.75 L126.00,338.79 L126.50,338.83 L127.00,338.86 L127.50,338.90 L128.00,338.93 L128.50,338.95 L129.00,338.97 L129.50,338.98 L130.00,338.98 L130.50,338.98 L131.00,338.97 L131.50,338.96 L132.00,338.95 L132.50,338.93 L133.00,338.92 L133.50,338.91 L134.00,338.91 L134.50,338.91 L135.00,338.91 L135.50,338.93 L136.00,338.94 L136.50,338.96 L137.00,338.99 L137.50,339.01 L138.00,339.03 L138.50,339.06 L139.00,339.08 L139.50,339.09 L140.00,339.10 L140.50,339.11 L141.00,339.12 L141.50,339.13 L142.00,339.13 L142.50,339.14 L143.00,339.15 L143.50,339.16 L144.00,339.17 L144.50,339.19 L145.00,339.21 L145.50,339.24 L146.00,339.27 L146.50,339.29 L147.00,339.32 L147.50,339.34 L148.00,339.36 L148.50,339.37 L149.00,339.38 L149.50,339.38 L150.00,339.37 L150.50,339.36 L151.00,339.34 L151.50,339.32 L152.00,339.30 L152.50,339.28" fill="none" stroke="#000" stroke-width="2.9" stroke-linejoin="round"/>
<path d="M47.81,339.36 L48.44,339.35 L49.06,339.34 L49.69,339.33 L50.31,339.32 L50.94,339.30 L51.56,339.29 L52.19,339.27 L52.81,339.26 L53.44,339.24 L54.06,339.22 L54.69,339.21 L55.31,339.19 L55.94,339.17 L56.56,339.15 L57.19,339.13 L57.81,339.11 L58.44,339.08 L59.06,339.06 L59.69,339.03 L60.31,339.01 L60.94,338.98 L61.56,338.95 L62.19,338.92 L62.81,338.88 L63.44,338.85 L64.06,338.81 L64.69,338.77 L65.31,338.73 L65.94,338.68 L66.56,338.64 L67.19,338.59 L67.81,338.53 L68.44,338.47 L69.06,338.41 L69.69,338.35 L70.31,338.28 L70.94,338.20 L71.56,338.12 L72.19,338.03 L72.81,337.94 L73.44,337.84 L74.06,337.72 L74.69,337.60 L75.31,337.47 L75.94,337.33 L76.56,337.17 L77.19,337.00 L77.81,336.81 L78.44,336.61 L79.06,336.38 L79.69,336.12 L80.31,335.84 L80.94,335.52 L81.56,335.17 L82.19,334.77 L82.81,334.32 L83.44,333.81 L84.06,333.22 L84.69,332.56 L85.31,331.79 L85.94,330.91 L86.56,329.88 L87.19,328.68 L87.81,327.27 L88.44,325.61 L89.06,323.65 L89.69,321.33 L90.31,318.58 L90.94,315.36 L91.56,311.61 L92.19,307.34 L92.81,302.65 L93.44,297.80 L94.06,293.24 L94.69,289.60 L95.31,287.57 L95.94,287.57 L96.56,289.60 L97.19,293.24 L97.81,297.80 L98.44,302.65 L99.06,307.34 L99.69,311.61 L100.31,315.36 L100.94,318.58 L101.56,321.33 L102.19,323.65 L102.81,325.61 L103.44,327.27 L104.06,328.68 L104.69,329.88 L105.31,330.91 L105.94,331.79 L106.56,332.56 L107.19,333.22 L107.81,333.81 L108.44,334.32 L109.06,334.77 L109.69,335.17 L110.31,335.52 L110.94,335.84 L111.56,336.12 L112.19,336.38 L112.81,336.61 L113.44,336.81 L114.06,337.00 L114.69,337.17 L115.31,337.33 L115.94,337.47 L116.56,337.60 L117.19,337.72 L117.81,337.84 L118.44,337.94 L119.06,338.03 L119.69,338.12 L120.31,338.20 L120.94,338.28 L121.56,338.35 L122.19,338.41 L122.81,338.47 L123.44,338.53 L124.06,338.59 L124.69,338.64 L125.31,338.68 L125.94,338.73 L126.56,338.77 L127.19,338.81 L127.81,338.85 L128.44,338.88 L129.06,338.92 L129.69,338.95 L130.31,338.98 L130.94,339.01 L131.56,339.03 L132.19,339.06 L132.81,339.08 L133.44,339.11 L134.06,339.13 L134.69,339.15 L135.31,339.17 L135.94,339.19 L136.56,339.21 L137.19,339.22 L137.81,339.24 L138.44,339.26 L139.06,339.27 L139.69,339.29 L140.31,339.30 L140.94,339.32 L141.56,339.33 L142.19,339.34 L142.81,339.35 L143.44,339.36" fill="none" stroke="#d41414" stroke-width="1.6"/>
<rect x="216.5" y="199.5" width="140.0" height="140.0" fill="none" stroke="#949494" stroke-width="1"/>
<line x1="214.0" y1="339.50" x2="216.5" y2="339.50" stroke="#949494" stroke-width="1"/>
<text id="t60" x="212.50" y="342.60" font-size="10.8" fill="#1a1a1a" text-anchor="end">0</text>
<line x1="215.0" y1="327.83" x2="216.5" y2="327.83" stroke="#949494" stroke-width="1"/>
<line x1="214.0" y1="316.17" x2="216.5" y2="316.17" stroke="#949494" stroke-width="1"/>
<text id="t61" x="212.50" y="319.27" font-size="10.8" fill="#1a1a1a" text-anchor="end"><tspan style="fill:none;stroke:none">1</tspan></text>
<path d="M210.51,319.27 L209.56,319.27 L209.56,313.22 Q209.22,313.55 208.66,313.88 Q208.10,314.20 207.66,314.37 L207.66,313.45 Q208.46,313.07 209.05,312.54 Q209.64,312.01 209.89,311.51 L210.51,311.51Z" fill="#1a1a1a" stroke="#1a1a1a" stroke-width="0.3"/>
<line x1="215.0" y1="304.50" x2="216.5" y2="304.50" stroke="#949494" stroke-width="1"/>
<line x1="214.0" y1="292.83" x2="216.5" y2="292.83" stroke="#949494" stroke-width="1"/>
<text id="t62" x="212.50" y="295.93" font-size="10.8" fill="#1a1a1a" text-anchor="end">2</text>
<line x1="215.0" y1="281.17" x2="216.5" y2="281.17" stroke="#949494" stroke-width="1"/>
<line x1="214.0" y1="269.50" x2="216.5" y2="269.50" stroke="#949494" stroke-width="1"/>
<text id="t63" x="212.50" y="272.60" font-size="10.8" fill="#1a1a1a" text-anchor="end">3</text>
<line x1="215.0" y1="257.83" x2="216.5" y2="257.83" stroke="#949494" stroke-width="1"/>
<line x1="214.0" y1="246.17" x2="216.5" y2="246.17" stroke="#949494" stroke-width="1"/>
<text id="t64" x="212.50" y="249.27" font-size="10.8" fill="#1a1a1a" text-anchor="end">4</text>
<line x1="215.0" y1="234.50" x2="216.5" y2="234.50" stroke="#949494" stroke-width="1"/>
<line x1="214.0" y1="222.83" x2="216.5" y2="222.83" stroke="#949494" stroke-width="1"/>
<text id="t65" x="212.50" y="225.93" font-size="10.8" fill="#1a1a1a" text-anchor="end">5</text>
<line x1="215.0" y1="211.17" x2="216.5" y2="211.17" stroke="#949494" stroke-width="1"/>
<line x1="214.0" y1="199.50" x2="216.5" y2="199.50" stroke="#949494" stroke-width="1"/>
<text id="t66" x="212.50" y="202.60" font-size="10.8" fill="#1a1a1a" text-anchor="end">6</text>
<line x1="216.50" y1="339.5" x2="216.50" y2="342.0" stroke="#949494" stroke-width="1"/>
<text id="t67" x="216.00" y="351.80" font-size="10.8" fill="#1a1a1a" text-anchor="middle"><tspan style="fill:none;stroke:none">1</tspan>.8</text>
<path d="M212.51,351.80 L211.56,351.80 L211.56,345.75 Q211.22,346.08 210.66,346.41 Q210.10,346.73 209.66,346.90 L209.66,345.98 Q210.46,345.60 211.05,345.07 Q211.64,344.54 211.89,344.04 L212.51,344.04Z" fill="#1a1a1a" stroke="#1a1a1a" stroke-width="0.3"/>
<line x1="232.12" y1="339.5" x2="232.12" y2="341.0" stroke="#949494" stroke-width="1"/>
<line x1="247.75" y1="339.5" x2="247.75" y2="342.0" stroke="#949494" stroke-width="1"/>
<text id="t68" x="247.25" y="351.80" font-size="10.8" fill="#1a1a1a" text-anchor="middle"><tspan style="fill:none;stroke:none">1</tspan>.9</text>
<path d="M243.76,351.80 L242.81,351.80 L242.81,345.75 Q242.47,346.08 241.91,346.41 Q241.35,346.73 240.91,346.90 L240.91,345.98 Q241.71,345.60 242.30,345.07 Q242.89,344.54 243.14,344.04 L243.76,344.04Z" fill="#1a1a1a" stroke="#1a1a1a" stroke-width="0.3"/>
<line x1="263.38" y1="339.5" x2="263.38" y2="341.0" stroke="#949494" stroke-width="1"/>
<line x1="279.00" y1="339.5" x2="279.00" y2="342.0" stroke="#949494" stroke-width="1"/>
<text id="t69" x="278.50" y="351.80" font-size="10.8" fill="#1a1a1a" text-anchor="middle">2.0</text>
<line x1="294.62" y1="339.5" x2="294.62" y2="341.0" stroke="#949494" stroke-width="1"/>
<line x1="310.25" y1="339.5" x2="310.25" y2="342.0" stroke="#949494" stroke-width="1"/>
<text id="t70" x="309.75" y="351.80" font-size="10.8" fill="#1a1a1a" text-anchor="middle">2.<tspan style="fill:none;stroke:none">1</tspan></text>
<path d="M315.27,351.80 L314.32,351.80 L314.32,345.75 Q313.98,346.08 313.42,346.41 Q312.87,346.73 312.43,346.90 L312.43,345.98 Q313.22,345.60 313.82,345.07 Q314.41,344.54 314.66,344.04 L315.27,344.04Z" fill="#1a1a1a" stroke="#1a1a1a" stroke-width="0.3"/>
<line x1="325.88" y1="339.5" x2="325.88" y2="341.0" stroke="#949494" stroke-width="1"/>
<line x1="341.50" y1="339.5" x2="341.50" y2="342.0" stroke="#949494" stroke-width="1"/>
<text id="t71" x="341.00" y="351.80" font-size="10.8" fill="#1a1a1a" text-anchor="middle">2.2</text>
<text id="t72" x="286.90" y="369.50" font-size="10.8" fill="#1a1a1a" text-anchor="middle">Energy (eV)</text>
<text x="202.90" y="269.40" font-size="10.8" fill="#1a1a1a" text-anchor="middle" transform="rotate(-90 202.90 269.40)">Norm. Intensity (arb. unit)</text>
<text id="t73" x="218.30" y="211.70" font-size="10.8" fill="#1a1a1a">NaCl Stir 60%</text>
<text id="t74" x="353.30" y="211.70" font-size="10.8" fill="#1a1a1a" text-anchor="end">5<tspan style="fill:none;stroke:none">–</tspan><tspan style="fill:none;stroke:none">1</tspan>0k <tspan font-style="italic">g</tspan></text>
<rect x="321.45" y="208.65" width="4.81" height="1.0" fill="#3a3a3a"/>
<path d="M330.89,211.70 L329.94,211.70 L329.94,205.65 Q329.59,205.98 329.04,206.31 Q328.48,206.63 328.04,206.80 L328.04,205.88 Q328.83,205.50 329.43,204.97 Q330.02,204.44 330.27,203.94 L330.89,203.94Z" fill="#1a1a1a" stroke="#1a1a1a" stroke-width="0.3"/>
<path d="M216.50,338.97 L217.00,338.95 L217.50,338.94 L218.00,338.93 L218.50,338.94 L219.00,338.94 L219.50,338.96 L220.00,338.97 L220.50,338.99 L221.00,339.01 L221.50,339.02 L222.00,339.04 L222.50,339.05 L223.00,339.05 L223.50,339.05 L224.00,339.05 L224.50,339.04 L225.00,339.02 L225.50,339.01 L226.00,339.00 L226.50,338.98 L227.00,338.97 L227.50,338.96 L228.00,338.96 L228.50,338.95 L229.00,338.95 L229.50,338.95 L230.00,338.95 L230.50,338.95 L231.00,338.94 L231.50,338.93 L232.00,338.91 L232.50,338.89 L233.00,338.86 L233.50,338.82 L234.00,338.79 L234.50,338.74 L235.00,338.70 L235.50,338.66 L236.00,338.62 L236.50,338.58 L237.00,338.55 L237.50,338.52 L238.00,338.50 L238.50,338.49 L239.00,338.48 L239.50,338.47 L240.00,338.47 L240.50,338.47 L241.00,338.46 L241.50,338.46 L242.00,338.45 L242.50,338.43 L243.00,338.41 L243.50,338.39 L244.00,338.36 L244.50,338.33 L245.00,338.30 L245.50,338.27 L246.00,338.23 L246.50,338.20 L247.00,338.17 L247.50,338.14 L248.00,338.11 L248.50,338.08 L249.00,338.04 L249.50,338.01 L250.00,337.97 L250.50,337.92 L251.00,337.86 L251.50,337.79 L252.00,337.71 L252.50,337.62 L253.00,337.51 L253.50,337.39 L254.00,337.25 L254.50,337.11 L255.00,336.95 L255.50,336.78 L256.00,336.60 L256.50,336.42 L257.00,336.23 L257.50,336.02 L258.00,335.81 L258.50,335.59 L259.00,335.36 L259.50,335.11 L260.00,334.86 L260.50,334.58 L261.00,334.29 L261.50,333.98 L262.00,333.65 L262.50,333.30 L263.00,332.94 L263.50,332.56 L264.00,332.16 L264.50,331.75 L265.00,331.34 L265.50,330.91 L266.00,330.47 L266.50,330.03 L267.00,329.58 L267.50,329.13 L268.00,328.67 L268.50,328.19 L269.00,327.71 L269.50,327.21 L270.00,326.69 L270.50,326.14 L271.00,325.57 L271.50,324.95 L272.00,324.29 L272.50,323.57 L273.00,322.79 L273.50,321.94 L274.00,321.00 L274.50,319.96 L275.00,318.81 L275.50,317.51 L276.00,316.06 L276.50,314.42 L277.00,312.57 L277.50,310.46 L278.00,308.06 L278.50,305.32 L279.00,302.20 L279.50,298.66 L280.00,294.67 L280.50,290.20 L281.00,285.28 L281.50,279.96 L282.00,274.39 L282.50,268.80 L283.00,263.52 L283.50,258.96 L284.00,255.57 L284.50,253.76 L285.00,253.78 L285.50,255.81 L286.00,259.64 L286.50,264.84 L287.00,270.93 L287.50,277.45 L288.00,284.04 L288.50,290.42 L289.00,296.43 L289.50,301.94 L290.00,306.91 L290.50,311.32 L291.00,315.16 L291.50,318.47 L292.00,321.30 L292.50,323.68 L293.00,325.68 L293.50,327.35 L294.00,328.73 L294.50,329.89 L295.00,330.85 L295.50,331.66 L296.00,332.35 L296.50,332.94 L297.00,333.45 L297.50,333.90 L298.00,334.30 L298.50,334.66 L299.00,334.97 L299.50,335.26 L300.00,335.52 L300.50,335.75 L301.00,335.96 L301.50,336.14 L302.00,336.31 L302.50,336.46 L303.00,336.59 L303.50,336.71 L304.00,336.83 L304.50,336.94 L305.00,337.04 L305.50,337.14 L306.00,337.24 L306.50,337.34 L307.00,337.44 L307.50,337.54 L308.00,337.64 L308.50,337.74 L309.00,337.84 L309.50,337.93 L310.00,338.01 L310.50,338.09 L311.00,338.16 L311.50,338.22 L312.00,338.27 L312.50,338.32 L313.00,338.36 L313.50,338.39 L314.00,338.43 L314.50,338.46 L315.00,338.48 L315.50,338.51 L316.00,338.54 L316.50,338.57 L317.00,338.61 L317.50,338.64 L318.00,338.67 L318.50,338.70 L319.00,338.73 L319.50,338.76 L320.00,338.78 L320.50,338.79 L321.00,338.80 L321.50,338.80 L322.00,338.80 L322.50,338.79 L323.00,338.79 L323.50,338.78 L324.00,338.77 L324.50,338.77 L325.00,338.77 L325.50,338.77 L326.00,338.78 L326.50,338.80 L327.00,338.82 L327.50,338.85 L328.00,338.88 L328.50,338.91 L329.00,338.95 L329.50,338.98 L330.00,339.01 L330.50,339.04 L331.00,339.06 L331.50,339.08 L332.00,339.09 L332.50,339.10 L333.00,339.11 L333.50,339.11 L334.00,339.12 L334.50,339.13 L335.00,339.14 L335.50,339.15 L336.00,339.16 L336.50,339.18 L337.00,339.20 L337.50,339.22 L338.00,339.24 L338.50,339.26 L339.00,339.27 L339.50,339.28 L340.00,339.29 L340.50,339.29 L341.00,339.28 L341.50,339.27" fill="none" stroke="#000" stroke-width="2.9" stroke-linejoin="round" stroke-linecap="round"/>
<path d="M216.50,339.55 L217.00,339.53 L217.50,339.52 L218.00,339.52 L218.50,339.52 L219.00,339.52 L219.50,339.54 L220.00,339.55 L220.50,339.57 L221.00,339.59 L221.50,339.61 L222.00,339.62 L222.50,339.63 L223.00,339.64 L223.50,339.64 L224.00,339.63 L224.50,339.62 L225.00,339.61 L225.50,339.60 L226.00,339.59 L226.50,339.57 L227.00,339.56 L227.50,339.56 L228.00,339.55 L228.50,339.55 L229.00,339.55 L229.50,339.55 L230.00,339.54 L230.50,339.54 L231.00,339.53 L231.50,339.52 L232.00,339.51 L232.50,339.49 L233.00,339.46 L233.50,339.42 L234.00,339.39 L234.50,339.35 L235.00,339.31 L235.50,339.26 L236.00,339.22 L236.50,339.19 L237.00,339.16 L237.50,339.13 L238.00,339.11 L238.50,339.10 L239.00,339.09 L239.50,339.09 L240.00,339.09 L240.50,339.08 L241.00,339.08 L241.50,339.08 L242.00,339.07 L242.50,339.06 L243.00,339.04 L243.50,339.02 L244.00,338.99 L244.50,338.96 L245.00,338.93 L245.50,338.90 L246.00,338.87 L246.50,338.84 L247.00,338.81 L247.50,338.78 L248.00,338.75 L248.50,338.73 L249.00,338.70 L249.50,338.66 L250.00,338.63 L250.50,338.58 L251.00,338.52 L251.50,338.46 L252.00,338.38 L252.50,338.29 L253.00,338.19 L253.50,338.07 L254.00,337.94 L254.50,337.80 L255.00,337.64 L255.50,337.48 L256.00,337.31 L256.50,337.13 L257.00,336.94 L257.50,336.74 L258.00,336.54 L258.50,336.32 L259.00,336.10 L259.50,335.86 L260.00,335.60 L260.50,335.34 L261.00,335.05 L261.50,334.75 L262.00,334.43 L262.50,334.09 L263.00,333.73 L263.50,333.36 L264.00,332.98 L264.50,332.58 L265.00,332.17 L265.50,331.75 L266.00,331.33 L266.50,330.90 L267.00,330.46 L267.50,330.02 L268.00,329.57 L268.50,329.12 L269.00,328.65 L269.50,328.16 L270.00,327.66 L270.50,327.14 L271.00,326.58 L271.50,325.98 L272.00,325.35 L272.50,324.66 L273.00,323.91 L273.50,323.09 L274.00,322.19 L274.50,321.14 L275.00,319.94 L275.50,318.61 L276.00,317.12 L276.50,315.44 L277.00,313.54 L277.50,311.38 L278.00,308.93 L278.50,306.13 L279.00,302.96 L279.50,299.35 L280.00,295.29 L280.50,290.75 L281.00,285.75 L281.50,280.35 L282.00,274.70 L282.50,269.02 L283.00,263.66 L283.50,259.03 L284.00,255.60 L284.50,253.76 L285.00,253.79 L285.50,255.84 L286.00,259.71 L286.50,264.97 L287.00,271.13 L287.50,277.73 L288.00,284.39 L288.50,290.85 L289.00,296.92 L289.50,302.50 L290.00,307.52 L290.50,311.97 L291.00,315.86 L291.50,319.21 L292.00,322.07 L292.50,324.48 L293.00,326.51 L293.50,328.20 L294.00,329.60 L294.50,330.78 L295.00,331.76 L295.50,332.57 L296.00,333.20 L296.50,333.74 L297.00,334.21 L297.50,334.61 L298.00,334.97 L298.50,335.29 L299.00,335.57 L299.50,335.82 L300.00,336.05 L300.50,336.26 L301.00,336.44 L301.50,336.60 L302.00,336.74 L302.50,336.87 L303.00,336.98 L303.50,337.09 L304.00,337.19 L304.50,337.28 L305.00,337.37 L305.50,337.45 L306.00,337.54 L306.50,337.63 L307.00,337.72 L307.50,337.81 L308.00,337.90 L308.50,337.99 L309.00,338.07 L309.50,338.15 L310.00,338.23 L310.50,338.30 L311.00,338.36 L311.50,338.42 L312.00,338.46 L312.50,338.50 L313.00,338.54 L313.50,338.57 L314.00,338.59 L314.50,338.62 L315.00,338.64 L315.50,338.66 L316.00,338.69 L316.50,338.72 L317.00,338.74 L317.50,338.77 L318.00,338.80 L318.50,338.83 L319.00,338.86 L319.50,338.88 L320.00,338.89 L320.50,338.90 L321.00,338.91 L321.50,338.91 L322.00,338.90 L322.50,338.90 L323.00,338.88 L323.50,338.87 L324.00,338.86 L324.50,338.86 L325.00,338.85 L325.50,338.86 L326.00,338.87 L326.50,338.88 L327.00,338.90 L327.50,338.93 L328.00,338.96 L328.50,338.99 L329.00,339.02 L329.50,339.05 L330.00,339.08 L330.50,339.11 L331.00,339.13 L331.50,339.14 L332.00,339.15 L332.50,339.16 L333.00,339.17 L333.50,339.17 L334.00,339.18 L334.50,339.19 L335.00,339.19 L335.50,339.21 L336.00,339.22 L336.50,339.24 L337.00,339.26 L337.50,339.27 L338.00,339.29 L338.50,339.31 L339.00,339.32 L339.50,339.33 L340.00,339.34 L340.50,339.33 L341.00,339.33 L341.50,339.31" fill="none" stroke="#000" stroke-width="2.9" stroke-linejoin="round"/>
<path d="M216.50,338.39 L217.00,338.37 L217.50,338.36 L218.00,338.35 L218.50,338.36 L219.00,338.36 L219.50,338.37 L220.00,338.39 L220.50,338.41 L221.00,338.42 L221.50,338.44 L222.00,338.45 L222.50,338.46 L223.00,338.47 L223.50,338.46 L224.00,338.46 L224.50,338.45 L225.00,338.44 L225.50,338.42 L226.00,338.41 L226.50,338.40 L227.00,338.38 L227.50,338.37 L228.00,338.37 L228.50,338.36 L229.00,338.36 L229.50,338.36 L230.00,338.35 L230.50,338.35 L231.00,338.34 L231.50,338.33 L232.00,338.31 L232.50,338.29 L233.00,338.26 L233.50,338.22 L234.00,338.18 L234.50,338.14 L235.00,338.10 L235.50,338.05 L236.00,338.01 L236.50,337.97 L237.00,337.94 L237.50,337.91 L238.00,337.89 L238.50,337.88 L239.00,337.87 L239.50,337.86 L240.00,337.85 L240.50,337.85 L241.00,337.84 L241.50,337.83 L242.00,337.82 L242.50,337.81 L243.00,337.79 L243.50,337.76 L244.00,337.73 L244.50,337.70 L245.00,337.67 L245.50,337.63 L246.00,337.59 L246.50,337.56 L247.00,337.52 L247.50,337.49 L248.00,337.46 L248.50,337.43 L249.00,337.39 L249.50,337.35 L250.00,337.31 L250.50,337.26 L251.00,337.20 L251.50,337.12 L252.00,337.04 L252.50,336.94 L253.00,336.83 L253.50,336.71 L254.00,336.57 L254.50,336.42 L255.00,336.25 L255.50,336.08 L256.00,335.90 L256.50,335.71 L257.00,335.51 L257.50,335.31 L258.00,335.09 L258.50,334.86 L259.00,334.62 L259.50,334.37 L260.00,334.11 L260.50,333.82 L261.00,333.53 L261.50,333.21 L262.00,332.87 L262.50,332.52 L263.00,332.14 L263.50,331.75 L264.00,331.35 L264.50,330.93 L265.00,330.50 L265.50,330.06 L266.00,329.62 L266.50,329.16 L267.00,328.70 L267.50,328.23 L268.00,327.76 L268.50,327.27 L269.00,326.77 L269.50,326.26 L270.00,325.72 L270.50,325.15 L271.00,324.55 L271.50,323.91 L272.00,323.23 L272.50,322.48 L273.00,321.68 L273.50,320.79 L274.00,319.81 L274.50,318.79 L275.00,317.67 L275.50,316.41 L276.00,315.00 L276.50,313.40 L277.00,311.59 L277.50,309.53 L278.00,307.18 L278.50,304.50 L279.00,301.44 L279.50,297.97 L280.00,294.04 L280.50,289.65 L281.00,284.81 L281.50,279.58 L282.00,274.09 L282.50,268.58 L283.00,263.37 L283.50,258.88 L284.00,255.54 L284.50,253.76 L285.00,253.78 L285.50,255.79 L286.00,259.57 L286.50,264.71 L287.00,270.73 L287.50,277.17 L288.00,283.68 L288.50,290.00 L289.00,295.94 L289.50,301.39 L290.00,306.30 L290.50,310.66 L291.00,314.46 L291.50,317.73 L292.00,320.52 L292.50,322.88 L293.00,324.85 L293.50,326.49 L294.00,327.86 L294.50,328.99 L295.00,329.94 L295.50,330.75 L296.00,331.50 L296.50,332.14 L297.00,332.70 L297.50,333.19 L298.00,333.63 L298.50,334.02 L299.00,334.38 L299.50,334.70 L300.00,334.98 L300.50,335.24 L301.00,335.47 L301.50,335.68 L302.00,335.87 L302.50,336.04 L303.00,336.20 L303.50,336.34 L304.00,336.47 L304.50,336.59 L305.00,336.71 L305.50,336.83 L306.00,336.94 L306.50,337.05 L307.00,337.17 L307.50,337.28 L308.00,337.39 L308.50,337.50 L309.00,337.60 L309.50,337.70 L310.00,337.79 L310.50,337.88 L311.00,337.95 L311.50,338.02 L312.00,338.08 L312.50,338.14 L313.00,338.18 L313.50,338.22 L314.00,338.26 L314.50,338.30 L315.00,338.33 L315.50,338.36 L316.00,338.40 L316.50,338.43 L317.00,338.47 L317.50,338.51 L318.00,338.54 L318.50,338.58 L319.00,338.61 L319.50,338.64 L320.00,338.66 L320.50,338.68 L321.00,338.69 L321.50,338.70 L322.00,338.70 L322.50,338.69 L323.00,338.69 L323.50,338.68 L324.00,338.68 L324.50,338.67 L325.00,338.68 L325.50,338.68 L326.00,338.70 L326.50,338.72 L327.00,338.74 L327.50,338.77 L328.00,338.80 L328.50,338.84 L329.00,338.87 L329.50,338.91 L330.00,338.94 L330.50,338.97 L331.00,338.99 L331.50,339.01 L332.00,339.02 L332.50,339.03 L333.00,339.04 L333.50,339.05 L334.00,339.06 L334.50,339.07 L335.00,339.08 L335.50,339.09 L336.00,339.11 L336.50,339.13 L337.00,339.15 L337.50,339.17 L338.00,339.19 L338.50,339.21 L339.00,339.22 L339.50,339.24 L340.00,339.24 L340.50,339.24 L341.00,339.23 L341.50,339.22" fill="none" stroke="#000" stroke-width="2.9" stroke-linejoin="round"/>
<path d="M249.31,339.49 L249.94,339.49 L250.56,339.49 L251.19,339.48 L251.81,339.47 L252.44,339.46 L253.06,339.45 L253.69,339.43 L254.31,339.41 L254.94,339.38 L255.56,339.35 L256.19,339.30 L256.81,339.25 L257.44,339.19 L258.06,339.11 L258.69,339.02 L259.31,338.91 L259.94,338.79 L260.56,338.65 L261.19,338.49 L261.81,338.31 L262.44,338.12 L263.06,337.91 L263.69,337.69 L264.31,337.46 L264.94,337.22 L265.56,336.98 L266.19,336.75 L266.81,336.52 L267.44,336.30 L268.06,336.10 L268.69,335.93 L269.31,335.78 L269.94,335.67 L270.56,335.59 L271.19,335.56 L271.81,335.56 L272.44,335.59 L273.06,335.67 L273.69,335.78 L274.31,335.93 L274.94,336.10 L275.56,336.30 L276.19,336.52 L276.81,336.75 L277.44,336.98 L278.06,337.22 L278.69,337.46 L279.31,337.69 L279.94,337.91 L280.56,338.12 L281.19,338.31 L281.81,338.49 L282.44,338.65 L283.06,338.79 L283.69,338.91 L284.31,339.02 L284.94,339.11 L285.56,339.19 L286.19,339.25 L286.81,339.30 L287.44,339.35 L288.06,339.38" fill="none" stroke="#22dd22" stroke-width="1.5"/>
<path d="M241.50,338.69 L242.12,338.67 L242.75,338.64 L243.37,338.62 L244.00,338.59 L244.62,338.56 L245.25,338.53 L245.87,338.50 L246.50,338.47 L247.12,338.44 L247.75,338.40 L248.37,338.36 L249.00,338.32 L249.62,338.28 L250.25,338.24 L250.87,338.19 L251.50,338.14 L252.12,338.09 L252.75,338.04 L253.37,337.98 L254.00,337.92 L254.62,337.85 L255.25,337.78 L255.87,337.71 L256.50,337.63 L257.12,337.55 L257.75,337.46 L258.37,337.36 L259.00,337.26 L259.62,337.15 L260.25,337.03 L260.88,336.91 L261.50,336.77 L262.12,336.62 L262.75,336.46 L263.38,336.29 L264.00,336.10 L264.62,335.90 L265.25,335.67 L265.88,335.43 L266.50,335.16 L267.12,334.86 L267.75,334.54 L268.38,334.17 L269.00,333.77 L269.62,333.33 L270.25,332.83 L270.88,332.26 L271.50,331.63 L272.12,330.91 L272.75,330.10 L273.38,329.17 L274.00,328.10 L274.62,326.86 L275.25,325.43 L275.88,323.76 L276.50,321.81 L277.12,319.50 L277.75,316.77 L278.38,313.53 L279.00,309.66 L279.62,305.07 L280.25,299.63 L280.87,293.27 L281.50,286.00 L282.12,278.01 L282.75,269.79 L283.37,262.22 L284.00,256.48 L284.62,253.75 L285.25,254.68 L285.87,259.04 L286.50,265.86 L287.12,273.88 L287.75,282.07 L288.37,289.74 L289.00,296.57 L289.62,302.46 L290.25,307.46 L290.87,311.68 L291.50,315.22 L292.12,318.19 L292.75,320.70 L293.37,322.83 L294.00,324.63 L294.62,326.18 L295.25,327.50 L295.87,328.65 L296.50,329.65 L297.12,330.52 L297.75,331.28 L298.37,331.96 L299.00,332.55 L299.62,333.08 L300.25,333.56 L300.87,333.98 L301.50,334.36 L302.12,334.70 L302.75,335.01 L303.37,335.30 L304.00,335.55 L304.62,335.79 L305.25,336.00 L305.87,336.20 L306.50,336.38 L307.12,336.54 L307.75,336.70 L308.37,336.84 L309.00,336.97 L309.62,337.09 L310.25,337.21 L310.87,337.31 L311.50,337.41 L312.12,337.50 L312.75,337.59 L313.37,337.67 L314.00,337.75 L314.62,337.82 L315.25,337.88 L315.87,337.95 L316.50,338.01 L317.12,338.06 L317.75,338.12 L318.37,338.17 L319.00,338.21 L319.62,338.26 L320.25,338.30 L320.87,338.34 L321.50,338.38 L322.12,338.42 L322.75,338.45 L323.37,338.49 L324.00,338.52 L324.62,338.55 L325.25,338.58 L325.87,338.60" fill="none" stroke="#e01818" stroke-width="1.5"/>
<path d="M235.25,338.79 L235.88,338.77 L236.50,338.75 L237.13,338.73 L237.75,338.71 L238.38,338.69 L239.00,338.67 L239.63,338.64 L240.25,338.62 L240.88,338.60 L241.50,338.57 L242.13,338.54 L242.75,338.51 L243.38,338.48 L244.00,338.45 L244.63,338.42 L245.25,338.39 L245.88,338.35 L246.50,338.31 L247.13,338.27 L247.75,338.23 L248.38,338.19 L249.00,338.14 L249.63,338.09 L250.25,338.03 L250.88,337.98 L251.50,337.91 L252.13,337.85 L252.75,337.77 L253.38,337.69 L254.00,337.60 L254.63,337.50 L255.25,337.39 L255.88,337.27 L256.50,337.13 L257.13,336.97 L257.75,336.80 L258.38,336.61 L259.00,336.39 L259.63,336.15 L260.25,335.89 L260.88,335.59 L261.50,335.27 L262.13,334.92 L262.75,334.53 L263.38,334.12 L264.00,333.68 L264.63,333.21 L265.25,332.72 L265.88,332.20 L266.50,331.66 L267.13,331.10 L267.75,330.52 L268.38,329.93 L269.00,329.31 L269.63,328.68 L270.25,328.02 L270.88,327.33 L271.50,326.60 L272.13,325.81 L272.75,324.96 L273.38,324.02 L274.00,322.96 L274.63,321.76 L275.25,320.37 L275.88,318.75 L276.50,316.85 L277.13,314.59 L277.75,311.91 L278.38,308.71 L279.00,304.90 L279.63,300.39 L280.25,295.08 L280.88,288.96 L281.50,282.07 L282.13,274.66 L282.75,267.22 L283.38,260.53 L284.00,255.58 L284.63,253.30 L285.25,254.19 L285.88,258.08 L286.50,264.21 L287.13,271.58 L287.75,279.29 L288.38,286.69 L289.00,293.43 L289.63,299.37 L290.25,304.50 L290.88,308.89 L291.50,312.63 L292.13,315.81 L292.75,318.51 L293.38,320.81 L294.00,322.79 L294.63,324.48 L295.25,325.95 L295.88,327.22 L296.50,328.33 L297.13,329.30 L297.75,330.16 L298.38,330.91 L299.00,331.58 L299.63,332.18 L300.25,332.71 L300.88,333.19 L301.50,333.62 L302.13,334.01 L302.75,334.37 L303.38,334.69 L304.00,334.98 L304.63,335.24 L305.25,335.49 L305.88,335.71 L306.50,335.92 L307.13,336.11 L307.75,336.28 L308.38,336.45 L309.00,336.60 L309.63,336.74 L310.25,336.87 L310.88,336.99 L311.50,337.10 L312.12,337.21 L312.75,337.30 L313.38,337.40 L314.00,337.48 L314.62,337.57 L315.25,337.64 L315.88,337.71 L316.50,337.78 L317.12,337.85 L317.75,337.91 L318.38,337.97 L319.00,338.02 L319.62,338.07 L320.25,338.12 L320.88,338.17 L321.50,338.21 L322.12,338.25 L322.75,338.29 L323.38,338.33 L324.00,338.37 L324.62,338.40 L325.25,338.44 L325.87,338.47" fill="none" stroke="#1010c8" stroke-width="1.6"/>
<rect x="405.5" y="199.5" width="140.0" height="140.0" fill="none" stroke="#949494" stroke-width="1"/>
<line x1="403.0" y1="339.50" x2="405.5" y2="339.50" stroke="#949494" stroke-width="1"/>
<text id="t75" x="401.50" y="342.60" font-size="10.8" fill="#1a1a1a" text-anchor="end">0</text>
<line x1="404.0" y1="327.83" x2="405.5" y2="327.83" stroke="#949494" stroke-width="1"/>
<line x1="403.0" y1="316.17" x2="405.5" y2="316.17" stroke="#949494" stroke-width="1"/>
<text id="t76" x="401.50" y="319.27" font-size="10.8" fill="#1a1a1a" text-anchor="end"><tspan style="fill:none;stroke:none">1</tspan></text>
<path d="M399.51,319.27 L398.56,319.27 L398.56,313.22 Q398.22,313.55 397.66,313.88 Q397.10,314.20 396.66,314.37 L396.66,313.45 Q397.46,313.07 398.05,312.54 Q398.64,312.01 398.89,311.51 L399.51,311.51Z" fill="#1a1a1a" stroke="#1a1a1a" stroke-width="0.3"/>
<line x1="404.0" y1="304.50" x2="405.5" y2="304.50" stroke="#949494" stroke-width="1"/>
<line x1="403.0" y1="292.83" x2="405.5" y2="292.83" stroke="#949494" stroke-width="1"/>
<text id="t77" x="401.50" y="295.93" font-size="10.8" fill="#1a1a1a" text-anchor="end">2</text>
<line x1="404.0" y1="281.17" x2="405.5" y2="281.17" stroke="#949494" stroke-width="1"/>
<line x1="403.0" y1="269.50" x2="405.5" y2="269.50" stroke="#949494" stroke-width="1"/>
<text id="t78" x="401.50" y="272.60" font-size="10.8" fill="#1a1a1a" text-anchor="end">3</text>
<line x1="404.0" y1="257.83" x2="405.5" y2="257.83" stroke="#949494" stroke-width="1"/>
<line x1="403.0" y1="246.17" x2="405.5" y2="246.17" stroke="#949494" stroke-width="1"/>
<text id="t79" x="401.50" y="249.27" font-size="10.8" fill="#1a1a1a" text-anchor="end">4</text>
<line x1="404.0" y1="234.50" x2="405.5" y2="234.50" stroke="#949494" stroke-width="1"/>
<line x1="403.0" y1="222.83" x2="405.5" y2="222.83" stroke="#949494" stroke-width="1"/>
<text id="t80" x="401.50" y="225.93" font-size="10.8" fill="#1a1a1a" text-anchor="end">5</text>
<line x1="404.0" y1="211.17" x2="405.5" y2="211.17" stroke="#949494" stroke-width="1"/>
<line x1="403.0" y1="199.50" x2="405.5" y2="199.50" stroke="#949494" stroke-width="1"/>
<text id="t81" x="401.50" y="202.60" font-size="10.8" fill="#1a1a1a" text-anchor="end">6</text>
<line x1="405.50" y1="339.5" x2="405.50" y2="342.0" stroke="#949494" stroke-width="1"/>
<text id="t82" x="405.00" y="351.80" font-size="10.8" fill="#1a1a1a" text-anchor="middle"><tspan style="fill:none;stroke:none">1</tspan>.8</text>
<path d="M401.51,351.80 L400.56,351.80 L400.56,345.75 Q400.22,346.08 399.66,346.41 Q399.10,346.73 398.66,346.90 L398.66,345.98 Q399.46,345.60 400.05,345.07 Q400.64,344.54 400.89,344.04 L401.51,344.04Z" fill="#1a1a1a" stroke="#1a1a1a" stroke-width="0.3"/>
<line x1="421.12" y1="339.5" x2="421.12" y2="341.0" stroke="#949494" stroke-width="1"/>
<line x1="436.75" y1="339.5" x2="436.75" y2="342.0" stroke="#949494" stroke-width="1"/>
<text id="t83" x="436.25" y="351.80" font-size="10.8" fill="#1a1a1a" text-anchor="middle"><tspan style="fill:none;stroke:none">1</tspan>.9</text>
<path d="M432.76,351.80 L431.81,351.80 L431.81,345.75 Q431.47,346.08 430.91,346.41 Q430.35,346.73 429.91,346.90 L429.91,345.98 Q430.71,345.60 431.30,345.07 Q431.89,344.54 432.14,344.04 L432.76,344.04Z" fill="#1a1a1a" stroke="#1a1a1a" stroke-width="0.3"/>
<line x1="452.38" y1="339.5" x2="452.38" y2="341.0" stroke="#949494" stroke-width="1"/>
<line x1="468.00" y1="339.5" x2="468.00" y2="342.0" stroke="#949494" stroke-width="1"/>
<text id="t84" x="467.50" y="351.80" font-size="10.8" fill="#1a1a1a" text-anchor="middle">2.0</text>
<line x1="483.62" y1="339.5" x2="483.62" y2="341.0" stroke="#949494" stroke-width="1"/>
<line x1="499.25" y1="339.5" x2="499.25" y2="342.0" stroke="#949494" stroke-width="1"/>
<text id="t85" x="498.75" y="351.80" font-size="10.8" fill="#1a1a1a" text-anchor="middle">2.<tspan style="fill:none;stroke:none">1</tspan></text>
<path d="M504.27,351.80 L503.32,351.80 L503.32,345.75 Q502.98,346.08 502.42,346.41 Q501.87,346.73 501.43,346.90 L501.43,345.98 Q502.22,345.60 502.82,345.07 Q503.41,344.54 503.66,344.04 L504.27,344.04Z" fill="#1a1a1a" stroke="#1a1a1a" stroke-width="0.3"/>
<line x1="514.88" y1="339.5" x2="514.88" y2="341.0" stroke="#949494" stroke-width="1"/>
<line x1="530.50" y1="339.5" x2="530.50" y2="342.0" stroke="#949494" stroke-width="1"/>
<text id="t86" x="530.00" y="351.80" font-size="10.8" fill="#1a1a1a" text-anchor="middle">2.2</text>
<text id="t87" x="475.90" y="369.50" font-size="10.8" fill="#1a1a1a" text-anchor="middle">Energy (eV)</text>
<text x="391.90" y="269.40" font-size="10.8" fill="#1a1a1a" text-anchor="middle" transform="rotate(-90 391.90 269.40)">Norm. Intensity (arb. unit)</text>
<text id="t88" x="410.50" y="212.30" font-size="10.8" fill="#1a1a1a">NaCl</text>
<text id="t89" x="410.50" y="225.90" font-size="10.8" fill="#1a1a1a">Stir 60%</text>
<text id="t90" x="542.30" y="211.70" font-size="10.8" fill="#1a1a1a" text-anchor="end"><tspan style="fill:none;stroke:none">1</tspan>0<tspan style="fill:none;stroke:none">–</tspan>30k <tspan font-style="italic">g</tspan></text>
<path d="M501.84,211.70 L500.89,211.70 L500.89,205.65 Q500.55,205.98 499.99,206.31 Q499.43,206.63 498.99,206.80 L498.99,205.88 Q499.79,205.50 500.38,204.97 Q500.97,204.44 501.22,203.94 L501.84,203.94Z" fill="#1a1a1a" stroke="#1a1a1a" stroke-width="0.3"/>
<rect x="510.45" y="208.65" width="4.81" height="1.0" fill="#3a3a3a"/>
<path d="M405.50,338.89 L406.00,338.85 L406.50,338.81 L407.00,338.78 L407.50,338.74 L408.00,338.71 L408.50,338.69 L409.00,338.67 L409.50,338.66 L410.00,338.65 L410.50,338.65 L411.00,338.66 L411.50,338.66 L412.00,338.67 L412.50,338.67 L413.00,338.67 L413.50,338.67 L414.00,338.67 L414.50,338.66 L415.00,338.65 L415.50,338.63 L416.00,338.62 L416.50,338.60 L417.00,338.58 L417.50,338.57 L418.00,338.56 L418.50,338.55 L419.00,338.54 L419.50,338.54 L420.00,338.54 L420.50,338.54 L421.00,338.54 L421.50,338.54 L422.00,338.53 L422.50,338.52 L423.00,338.50 L423.50,338.47 L424.00,338.44 L424.50,338.40 L425.00,338.35 L425.50,338.30 L426.00,338.25 L426.50,338.19 L427.00,338.14 L427.50,338.09 L428.00,338.04 L428.50,338.00 L429.00,337.96 L429.50,337.92 L430.00,337.89 L430.50,337.86 L431.00,337.83 L431.50,337.80 L432.00,337.77 L432.50,337.74 L433.00,337.70 L433.50,337.66 L434.00,337.61 L434.50,337.56 L435.00,337.50 L435.50,337.45 L436.00,337.39 L436.50,337.32 L437.00,337.26 L437.50,337.20 L438.00,337.14 L438.50,337.08 L439.00,337.01 L439.50,336.95 L440.00,336.88 L440.50,336.81 L441.00,336.72 L441.50,336.63 L442.00,336.52 L442.50,336.39 L443.00,336.24 L443.50,336.08 L444.00,335.89 L444.50,335.68 L445.00,335.45 L445.50,335.20 L446.00,334.93 L446.50,334.63 L447.00,334.32 L447.50,333.98 L448.00,333.62 L448.50,333.24 L449.00,332.83 L449.50,332.40 L450.00,331.94 L450.50,331.46 L451.00,330.94 L451.50,330.40 L452.00,329.82 L452.50,329.21 L453.00,328.57 L453.50,327.90 L454.00,327.19 L454.50,326.46 L455.00,325.70 L455.50,324.92 L456.00,324.12 L456.50,323.29 L457.00,322.45 L457.50,321.59 L458.00,320.71 L458.50,319.81 L459.00,318.88 L459.50,317.93 L460.00,316.94 L460.50,315.91 L461.00,314.83 L461.50,313.67 L462.00,312.44 L462.50,311.12 L463.00,309.67 L463.50,308.09 L464.00,306.35 L464.50,304.41 L465.00,302.25 L465.50,299.82 L466.00,297.08 L466.50,293.98 L467.00,290.45 L467.50,286.44 L468.00,281.88 L468.50,276.70 L469.00,270.85 L469.50,264.27 L470.00,256.98 L470.50,249.03 L471.00,240.59 L471.50,231.94 L472.00,223.52 L472.50,215.93 L473.00,209.87 L473.50,206.00 L474.00,204.82 L474.50,206.68 L475.00,211.54 L475.50,218.84 L476.00,227.84 L476.50,237.81 L477.00,248.10 L477.50,258.24 L478.00,267.90 L478.50,276.85 L479.00,284.99 L479.50,292.26 L480.00,298.65 L480.50,304.20 L481.00,308.97 L481.50,313.02 L482.00,316.43 L482.50,319.29 L483.00,321.68 L483.50,323.67 L484.00,325.33 L484.50,326.72 L485.00,327.89 L485.50,328.89 L486.00,329.75 L486.50,330.50 L487.00,331.15 L487.50,331.74 L488.00,332.26 L488.50,332.73 L489.00,333.16 L489.50,333.55 L490.00,333.91 L490.50,334.23 L491.00,334.52 L491.50,334.79 L492.00,335.03 L492.50,335.24 L493.00,335.44 L493.50,335.61 L494.00,335.77 L494.50,335.92 L495.00,336.05 L495.50,336.18 L496.00,336.30 L496.50,336.42 L497.00,336.53 L497.50,336.65 L498.00,336.76 L498.50,336.87 L499.00,336.98 L499.50,337.09 L500.00,337.20 L500.50,337.30 L501.00,337.40 L501.50,337.49 L502.00,337.57 L502.50,337.65 L503.00,337.72 L503.50,337.78 L504.00,337.84 L504.50,337.89 L505.00,337.94 L505.50,337.99 L506.00,338.03 L506.50,338.08 L507.00,338.13 L507.50,338.18 L508.00,338.23 L508.50,338.29 L509.00,338.34 L509.50,338.38 L510.00,338.43 L510.50,338.47 L511.00,338.50 L511.50,338.53 L512.00,338.55 L512.50,338.56 L513.00,338.56 L513.50,338.56 L514.00,338.56 L514.50,338.56 L515.00,338.55 L515.50,338.55 L516.00,338.55 L516.50,338.55 L517.00,338.56 L517.50,338.58 L518.00,338.60 L518.50,338.62 L519.00,338.65 L519.50,338.68 L520.00,338.70 L520.50,338.73 L521.00,338.76 L521.50,338.78 L522.00,338.80 L522.50,338.82 L523.00,338.83 L523.50,338.84 L524.00,338.85 L524.50,338.86 L525.00,338.87 L525.50,338.89 L526.00,338.90 L526.50,338.92 L527.00,338.95 L527.50,338.98 L528.00,339.01 L528.50,339.04 L529.00,339.07 L529.50,339.10 L530.00,339.13 L530.50,339.15" fill="none" stroke="#000" stroke-width="2.9" stroke-linejoin="round" stroke-linecap="round"/>
<path d="M405.50,339.47 L406.00,339.43 L406.50,339.39 L407.00,339.36 L407.50,339.32 L408.00,339.29 L408.50,339.27 L409.00,339.25 L409.50,339.24 L410.00,339.24 L410.50,339.24 L411.00,339.24 L411.50,339.24 L412.00,339.25 L412.50,339.26 L413.00,339.26 L413.50,339.26 L414.00,339.25 L414.50,339.25 L415.00,339.23 L415.50,339.22 L416.00,339.21 L416.50,339.19 L417.00,339.17 L417.50,339.16 L418.00,339.15 L418.50,339.14 L419.00,339.14 L419.50,339.14 L420.00,339.14 L420.50,339.14 L421.00,339.14 L421.50,339.14 L422.00,339.13 L422.50,339.12 L423.00,339.10 L423.50,339.07 L424.00,339.04 L424.50,339.00 L425.00,338.96 L425.50,338.91 L426.00,338.86 L426.50,338.80 L427.00,338.75 L427.50,338.70 L428.00,338.65 L428.50,338.61 L429.00,338.57 L429.50,338.54 L430.00,338.51 L430.50,338.48 L431.00,338.45 L431.50,338.42 L432.00,338.40 L432.50,338.36 L433.00,338.33 L433.50,338.29 L434.00,338.24 L434.50,338.19 L435.00,338.14 L435.50,338.08 L436.00,338.03 L436.50,337.97 L437.00,337.91 L437.50,337.85 L438.00,337.79 L438.50,337.73 L439.00,337.67 L439.50,337.61 L440.00,337.54 L440.50,337.47 L441.00,337.39 L441.50,337.30 L442.00,337.19 L442.50,337.07 L443.00,336.93 L443.50,336.77 L444.00,336.58 L444.50,336.38 L445.00,336.16 L445.50,335.91 L446.00,335.64 L446.50,335.35 L447.00,335.04 L447.50,334.70 L448.00,334.35 L448.50,333.97 L449.00,333.57 L449.50,333.15 L450.00,332.70 L450.50,332.22 L451.00,331.72 L451.50,331.18 L452.00,330.61 L452.50,330.01 L453.00,329.38 L453.50,328.71 L454.00,328.02 L454.50,327.30 L455.00,326.55 L455.50,325.78 L456.00,324.99 L456.50,324.18 L457.00,323.35 L457.50,322.50 L458.00,321.64 L458.50,320.75 L459.00,319.84 L459.50,318.91 L460.00,317.94 L460.50,316.93 L461.00,315.87 L461.50,314.74 L462.00,313.54 L462.50,312.25 L463.00,310.84 L463.50,309.28 L464.00,307.50 L464.50,305.53 L465.00,303.32 L465.50,300.85 L466.00,298.07 L466.50,294.92 L467.00,291.34 L467.50,287.28 L468.00,282.66 L468.50,277.42 L469.00,271.50 L469.50,264.85 L470.00,257.48 L470.50,249.46 L471.00,240.93 L471.50,232.19 L472.00,223.70 L472.50,216.04 L473.00,209.92 L473.50,206.01 L474.00,204.82 L474.50,206.69 L475.00,211.59 L475.50,218.94 L476.00,228.01 L476.50,238.05 L477.00,248.42 L477.50,258.64 L478.00,268.36 L478.50,277.38 L479.00,285.57 L479.50,292.89 L480.00,299.33 L480.50,304.93 L481.00,309.73 L481.50,313.81 L482.00,317.25 L482.50,320.13 L483.00,322.54 L483.50,324.55 L484.00,326.23 L484.50,327.63 L485.00,328.77 L485.50,329.72 L486.00,330.53 L486.50,331.23 L487.00,331.84 L487.50,332.39 L488.00,332.87 L488.50,333.31 L489.00,333.71 L489.50,334.07 L490.00,334.40 L490.50,334.70 L491.00,334.97 L491.50,335.21 L492.00,335.43 L492.50,335.63 L493.00,335.80 L493.50,335.96 L494.00,336.11 L494.50,336.24 L495.00,336.36 L495.50,336.47 L496.00,336.58 L496.50,336.69 L497.00,336.79 L497.50,336.89 L498.00,337.00 L498.50,337.10 L499.00,337.21 L499.50,337.31 L500.00,337.41 L500.50,337.50 L501.00,337.59 L501.50,337.68 L502.00,337.75 L502.50,337.82 L503.00,337.89 L503.50,337.94 L504.00,337.99 L504.50,338.04 L505.00,338.09 L505.50,338.13 L506.00,338.17 L506.50,338.22 L507.00,338.26 L507.50,338.31 L508.00,338.36 L508.50,338.41 L509.00,338.45 L509.50,338.50 L510.00,338.54 L510.50,338.58 L511.00,338.61 L511.50,338.63 L512.00,338.65 L512.50,338.66 L513.00,338.66 L513.50,338.66 L514.00,338.65 L514.50,338.64 L515.00,338.64 L515.50,338.63 L516.00,338.63 L516.50,338.63 L517.00,338.64 L517.50,338.65 L518.00,338.67 L518.50,338.69 L519.00,338.72 L519.50,338.75 L520.00,338.77 L520.50,338.80 L521.00,338.82 L521.50,338.85 L522.00,338.86 L522.50,338.88 L523.00,338.89 L523.50,338.90 L524.00,338.91 L524.50,338.92 L525.00,338.93 L525.50,338.94 L526.00,338.96 L526.50,338.98 L527.00,339.00 L527.50,339.03 L528.00,339.06 L528.50,339.09 L529.00,339.12 L529.50,339.15 L530.00,339.17 L530.50,339.19" fill="none" stroke="#000" stroke-width="2.9" stroke-linejoin="round"/>
<path d="M405.50,338.31 L406.00,338.27 L406.50,338.23 L407.00,338.20 L407.50,338.16 L408.00,338.13 L408.50,338.11 L409.00,338.09 L409.50,338.08 L410.00,338.07 L410.50,338.07 L411.00,338.07 L411.50,338.08 L412.00,338.08 L412.50,338.08 L413.00,338.09 L413.50,338.08 L414.00,338.08 L414.50,338.07 L415.00,338.06 L415.50,338.04 L416.00,338.03 L416.50,338.01 L417.00,337.99 L417.50,337.98 L418.00,337.96 L418.50,337.96 L419.00,337.95 L419.50,337.95 L420.00,337.94 L420.50,337.94 L421.00,337.94 L421.50,337.94 L422.00,337.93 L422.50,337.92 L423.00,337.90 L423.50,337.87 L424.00,337.83 L424.50,337.79 L425.00,337.75 L425.50,337.69 L426.00,337.64 L426.50,337.58 L427.00,337.53 L427.50,337.48 L428.00,337.43 L428.50,337.38 L429.00,337.34 L429.50,337.30 L430.00,337.27 L430.50,337.24 L431.00,337.21 L431.50,337.18 L432.00,337.15 L432.50,337.11 L433.00,337.07 L433.50,337.03 L434.00,336.98 L434.50,336.92 L435.00,336.87 L435.50,336.81 L436.00,336.74 L436.50,336.68 L437.00,336.62 L437.50,336.55 L438.00,336.49 L438.50,336.42 L439.00,336.36 L439.50,336.29 L440.00,336.22 L440.50,336.14 L441.00,336.05 L441.50,335.95 L442.00,335.84 L442.50,335.71 L443.00,335.56 L443.50,335.39 L444.00,335.20 L444.50,334.99 L445.00,334.75 L445.50,334.50 L446.00,334.22 L446.50,333.92 L447.00,333.59 L447.50,333.25 L448.00,332.89 L448.50,332.50 L449.00,332.08 L449.50,331.65 L450.00,331.18 L450.50,330.69 L451.00,330.17 L451.50,329.62 L452.00,329.03 L452.50,328.41 L453.00,327.76 L453.50,327.08 L454.00,326.37 L454.50,325.62 L455.00,324.85 L455.50,324.06 L456.00,323.24 L456.50,322.41 L457.00,321.55 L457.50,320.68 L458.00,319.78 L458.50,318.86 L459.00,317.92 L459.50,316.95 L460.00,315.94 L460.50,314.89 L461.00,313.78 L461.50,312.60 L462.00,311.35 L462.50,309.99 L463.00,308.51 L463.50,306.91 L464.00,305.20 L464.50,303.30 L465.00,301.18 L465.50,298.79 L466.00,296.10 L466.50,293.04 L467.00,289.56 L467.50,285.61 L468.00,281.10 L468.50,275.99 L469.00,270.20 L469.50,263.69 L470.00,256.48 L470.50,248.61 L471.00,240.25 L471.50,231.68 L472.00,223.34 L472.50,215.83 L473.00,209.82 L473.50,205.99 L474.00,204.82 L474.50,206.67 L475.00,211.49 L475.50,218.74 L476.00,227.67 L476.50,237.56 L477.00,247.78 L477.50,257.85 L478.00,267.43 L478.50,276.32 L479.00,284.40 L479.50,291.62 L480.00,297.97 L480.50,303.48 L481.00,308.21 L481.50,312.23 L482.00,315.61 L482.50,318.45 L483.00,320.81 L483.50,322.78 L484.00,324.43 L484.50,325.80 L485.00,327.02 L485.50,328.07 L486.00,328.98 L486.50,329.77 L487.00,330.47 L487.50,331.09 L488.00,331.65 L488.50,332.15 L489.00,332.61 L489.50,333.03 L490.00,333.41 L490.50,333.76 L491.00,334.08 L491.50,334.37 L492.00,334.63 L492.50,334.86 L493.00,335.07 L493.50,335.27 L494.00,335.44 L494.50,335.60 L495.00,335.75 L495.50,335.89 L496.00,336.02 L496.50,336.15 L497.00,336.27 L497.50,336.40 L498.00,336.52 L498.50,336.64 L499.00,336.76 L499.50,336.88 L500.00,336.99 L500.50,337.10 L501.00,337.21 L501.50,337.31 L502.00,337.39 L502.50,337.48 L503.00,337.55 L503.50,337.62 L504.00,337.68 L504.50,337.74 L505.00,337.79 L505.50,337.84 L506.00,337.89 L506.50,337.95 L507.00,338.00 L507.50,338.05 L508.00,338.11 L508.50,338.17 L509.00,338.22 L509.50,338.27 L510.00,338.32 L510.50,338.36 L511.00,338.40 L511.50,338.43 L512.00,338.45 L512.50,338.46 L513.00,338.47 L513.50,338.47 L514.00,338.47 L514.50,338.47 L515.00,338.47 L515.50,338.46 L516.00,338.47 L516.50,338.47 L517.00,338.48 L517.50,338.50 L518.00,338.52 L518.50,338.55 L519.00,338.57 L519.50,338.60 L520.00,338.64 L520.50,338.67 L521.00,338.69 L521.50,338.72 L522.00,338.74 L522.50,338.75 L523.00,338.77 L523.50,338.78 L524.00,338.79 L524.50,338.80 L525.00,338.82 L525.50,338.83 L526.00,338.85 L526.50,338.87 L527.00,338.90 L527.50,338.93 L528.00,338.96 L528.50,338.99 L529.00,339.02 L529.50,339.05 L530.00,339.08 L530.50,339.10" fill="none" stroke="#000" stroke-width="2.9" stroke-linejoin="round"/>
<path d="M441.44,339.47 L442.06,339.46 L442.69,339.44 L443.31,339.42 L443.94,339.39 L444.56,339.36 L445.19,339.31 L445.81,339.25 L446.44,339.18 L447.06,339.09 L447.69,338.98 L448.31,338.85 L448.94,338.70 L449.56,338.52 L450.19,338.30 L450.81,338.06 L451.44,337.79 L452.06,337.48 L452.69,337.14 L453.31,336.77 L453.94,336.38 L454.56,335.96 L455.19,335.53 L455.81,335.09 L456.44,334.65 L457.06,334.22 L457.69,333.81 L458.31,333.43 L458.94,333.08 L459.56,332.79 L460.19,332.55 L460.81,332.37 L461.44,332.27 L462.06,332.23 L462.69,332.27 L463.31,332.37 L463.94,332.55 L464.56,332.79 L465.19,333.08 L465.81,333.43 L466.44,333.81 L467.06,334.22 L467.69,334.65 L468.31,335.09 L468.94,335.53 L469.56,335.96 L470.19,336.38 L470.81,336.77 L471.44,337.14 L472.06,337.48 L472.69,337.79 L473.31,338.06 L473.94,338.30 L474.56,338.52 L475.19,338.70 L475.81,338.85 L476.44,338.98 L477.06,339.09 L477.69,339.18 L478.31,339.25 L478.94,339.31 L479.56,339.36 L480.19,339.39" fill="none" stroke="#22dd22" stroke-width="1.5"/>
<path d="M430.50,338.25 L431.12,338.21 L431.75,338.17 L432.37,338.13 L433.00,338.09 L433.62,338.05 L434.25,338.00 L434.87,337.95 L435.50,337.90 L436.12,337.85 L436.75,337.79 L437.37,337.74 L438.00,337.68 L438.62,337.61 L439.25,337.54 L439.87,337.47 L440.50,337.40 L441.12,337.32 L441.75,337.23 L442.37,337.15 L443.00,337.05 L443.62,336.95 L444.25,336.85 L444.87,336.73 L445.50,336.61 L446.12,336.49 L446.75,336.35 L447.37,336.20 L448.00,336.05 L448.62,335.88 L449.25,335.70 L449.88,335.51 L450.50,335.30 L451.12,335.07 L451.75,334.83 L452.38,334.56 L453.00,334.28 L453.62,333.97 L454.25,333.62 L454.88,333.25 L455.50,332.84 L456.12,332.40 L456.75,331.90 L457.38,331.35 L458.00,330.75 L458.62,330.07 L459.25,329.32 L459.88,328.47 L460.50,327.52 L461.12,326.45 L461.75,325.23 L462.38,323.83 L463.00,322.24 L463.62,320.40 L464.25,318.27 L464.88,315.79 L465.50,312.89 L466.12,309.48 L466.75,305.44 L467.38,300.66 L468.00,294.96 L468.62,288.18 L469.25,280.13 L469.87,270.67 L470.50,259.75 L471.12,247.56 L471.75,234.68 L472.37,222.26 L473.00,212.03 L473.62,205.92 L474.25,205.34 L474.87,210.42 L475.50,219.98 L476.12,232.11 L476.75,245.01 L477.37,257.41 L478.00,268.60 L478.62,278.35 L479.25,286.67 L479.87,293.70 L480.50,299.60 L481.12,304.55 L481.75,308.72 L482.37,312.25 L483.00,315.25 L483.62,317.80 L484.25,320.00 L484.87,321.89 L485.50,323.53 L486.12,324.96 L486.75,326.21 L487.37,327.32 L488.00,328.29 L488.62,329.16 L489.25,329.93 L489.87,330.62 L490.50,331.24 L491.12,331.80 L491.75,332.30 L492.37,332.76 L493.00,333.17 L493.62,333.55 L494.25,333.90 L494.87,334.22 L495.50,334.51 L496.12,334.78 L496.75,335.02 L497.37,335.25 L498.00,335.46 L498.62,335.66 L499.25,335.84 L499.87,336.01 L500.50,336.17 L501.12,336.32 L501.75,336.46 L502.37,336.59 L503.00,336.71 L503.62,336.82 L504.25,336.93 L504.87,337.03 L505.50,337.13 L506.12,337.22 L506.75,337.30 L507.37,337.38 L508.00,337.46 L508.62,337.53 L509.25,337.60 L509.87,337.66 L510.50,337.73 L511.12,337.78 L511.75,337.84 L512.38,337.89 L513.00,337.94 L513.62,337.99 L514.25,338.04 L514.88,338.08 L515.50,338.12 L516.12,338.16 L516.75,338.20 L517.38,338.24 L518.00,338.27" fill="none" stroke="#e01818" stroke-width="1.5"/>
<path d="M424.25,338.39 L424.88,338.36 L425.50,338.33 L426.12,338.30 L426.75,338.27 L427.38,338.24 L428.00,338.21 L428.62,338.17 L429.25,338.13 L429.88,338.10 L430.50,338.05 L431.12,338.01 L431.75,337.97 L432.38,337.92 L433.00,337.88 L433.62,337.83 L434.25,337.77 L434.88,337.72 L435.50,337.66 L436.12,337.60 L436.75,337.53 L437.38,337.47 L438.00,337.40 L438.62,337.32 L439.25,337.24 L439.88,337.15 L440.50,337.06 L441.12,336.96 L441.75,336.86 L442.38,336.74 L443.00,336.61 L443.63,336.48 L444.25,336.32 L444.88,336.15 L445.50,335.96 L446.13,335.75 L446.75,335.52 L447.38,335.25 L448.00,334.95 L448.63,334.62 L449.25,334.24 L449.88,333.83 L450.50,333.36 L451.13,332.84 L451.75,332.27 L452.38,331.65 L453.00,330.97 L453.63,330.23 L454.25,329.44 L454.88,328.59 L455.50,327.69 L456.13,326.74 L456.75,325.74 L457.38,324.70 L458.00,323.62 L458.63,322.49 L459.25,321.32 L459.88,320.10 L460.50,318.82 L461.13,317.47 L461.75,316.03 L462.38,314.48 L463.00,312.78 L463.63,310.89 L464.25,308.75 L464.88,306.30 L465.50,303.46 L466.13,300.13 L466.75,296.19 L467.38,291.53 L468.00,285.97 L468.63,279.38 L469.25,271.60 L469.88,262.55 L470.50,252.25 L471.13,240.97 L471.75,229.31 L472.38,218.34 L473.00,209.55 L473.63,204.47 L474.25,204.19 L474.88,208.82 L475.50,217.44 L476.13,228.56 L476.75,240.65 L477.38,252.54 L478.00,263.55 L478.63,273.34 L479.25,281.86 L479.88,289.16 L480.50,295.38 L481.13,300.66 L481.75,305.15 L482.38,308.98 L483.00,312.25 L483.63,315.06 L484.25,317.48 L484.88,319.57 L485.50,321.40 L486.13,323.00 L486.75,324.40 L487.38,325.64 L488.00,326.73 L488.63,327.71 L489.25,328.58 L489.88,329.36 L490.50,330.06 L491.13,330.69 L491.75,331.26 L492.38,331.78 L493.00,332.25 L493.63,332.69 L494.25,333.08 L494.88,333.44 L495.50,333.77 L496.13,334.08 L496.75,334.36 L497.38,334.62 L498.00,334.87 L498.63,335.09 L499.25,335.30 L499.88,335.49 L500.50,335.68 L501.12,335.84 L501.75,336.00 L502.38,336.15 L503.00,336.29 L503.62,336.42 L504.25,336.55 L504.88,336.66 L505.50,336.77 L506.12,336.87 L506.75,336.97 L507.38,337.06 L508.00,337.15 L508.62,337.23 L509.25,337.31 L509.88,337.39 L510.50,337.46 L511.12,337.52 L511.75,337.59 L512.38,337.65 L513.00,337.71 L513.62,337.76 L514.25,337.82 L514.88,337.87 L515.50,337.91 L516.12,337.96 L516.75,338.00 L517.38,338.05 L518.00,338.09" fill="none" stroke="#1010c8" stroke-width="1.6"/>
</svg></body></html>
